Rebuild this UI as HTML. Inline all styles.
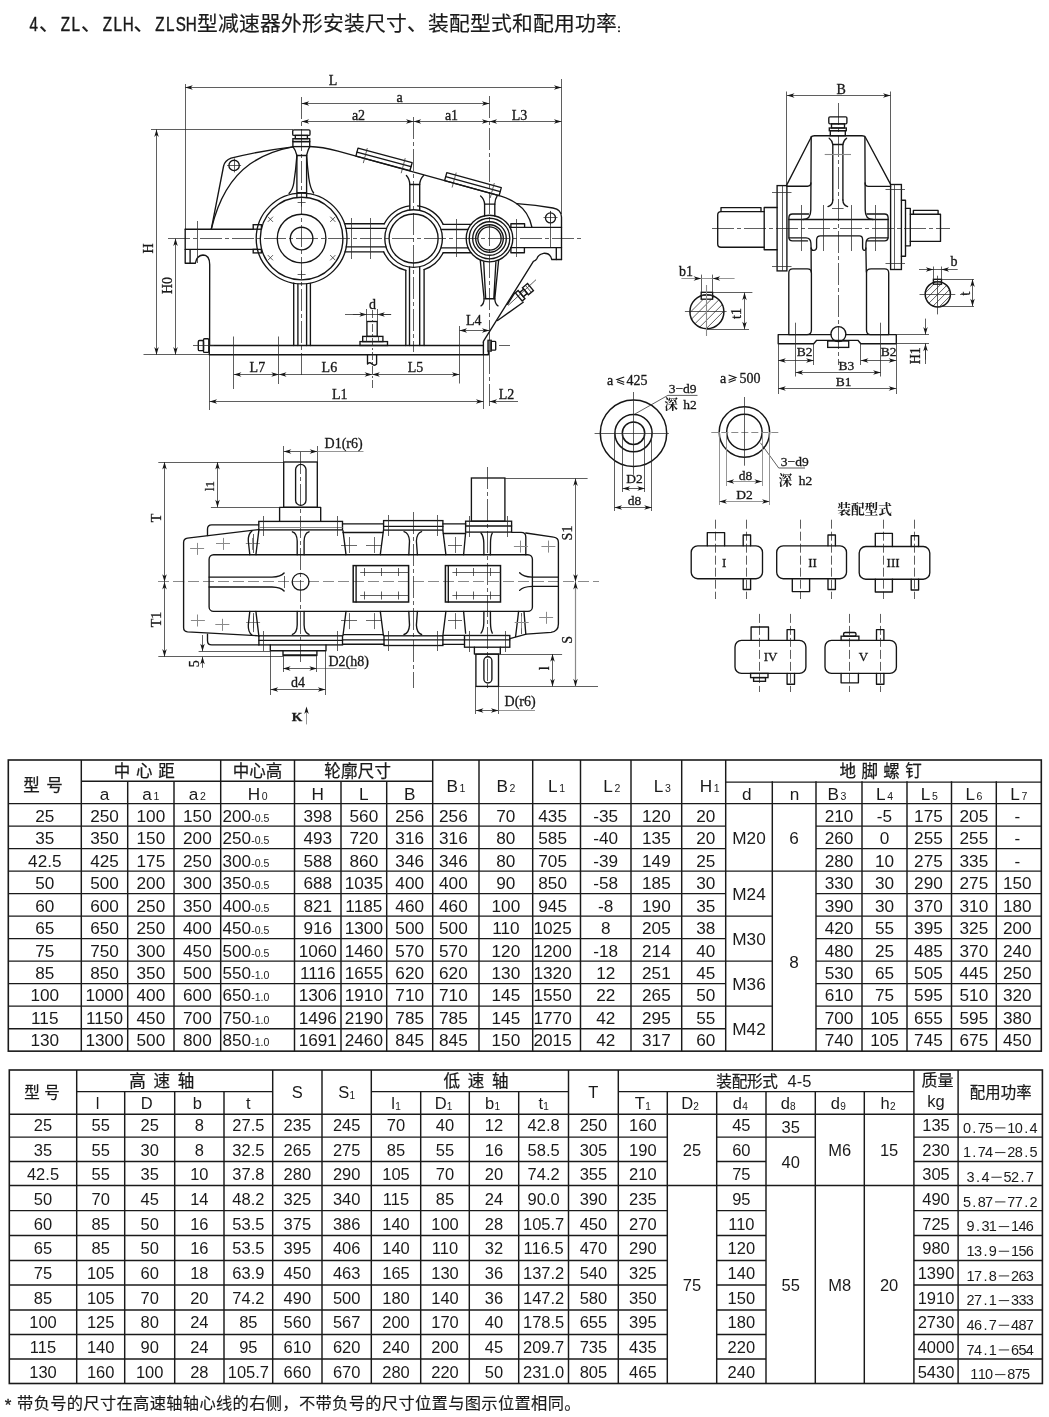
<!DOCTYPE html>
<html><head><meta charset="utf-8"><title>ZL</title>
<style>
html,body{margin:0;padding:0;background:#fff;}
body{width:1049px;height:1417px;overflow:hidden;font-family:"Liberation Sans",sans-serif;}
svg{display:block;position:absolute;left:0;top:0;will-change:transform;filter:grayscale(1);}
text{fill:#1a1a1a;}
</style></head><body>
<svg width="1049" height="1417" viewBox="0 0 1049 1417">
<rect width="1049" height="1417" fill="#fff"/>
<path d="M185.5 84L185.5 229" stroke="#2a2a2a" stroke-width="0.75" fill="none" />
<path d="M561.5 79L561.5 214" stroke="#2a2a2a" stroke-width="0.75" fill="none" />
<path d="M185.2 87.5L561.5 87.5" stroke="#2a2a2a" stroke-width="0.75" fill="none" />
<path d="M185.20 87.50L192.80 85.25L190.67 87.50L192.80 89.75Z" fill="#151515"/>
<path d="M561.50 87.50L553.90 89.75L556.03 87.50L553.90 85.25Z" fill="#151515"/>
<text x="333" y="84.5" font-size="14" text-anchor="middle" font-family="Liberation Serif, serif" font-weight="normal" stroke="#151515" stroke-width="0.3">L</text>
<path d="M301.6 103.5L489.5 103.5" stroke="#2a2a2a" stroke-width="0.75" fill="none" />
<path d="M301.60 103.50L309.20 101.25L307.07 103.50L309.20 105.75Z" fill="#151515"/>
<path d="M489.50 103.50L481.90 105.75L484.03 103.50L481.90 101.25Z" fill="#151515"/>
<text x="399.5" y="101.5" font-size="14" text-anchor="middle" font-family="Liberation Serif, serif" font-weight="normal" stroke="#151515" stroke-width="0.3">a</text>
<path d="M301.6 121.5L413.6 121.5" stroke="#2a2a2a" stroke-width="0.75" fill="none" />
<path d="M301.60 121.50L309.20 119.25L307.07 121.50L309.20 123.75Z" fill="#151515"/>
<path d="M413.60 121.50L406.00 123.75L408.13 121.50L406.00 119.25Z" fill="#151515"/>
<path d="M413.6 121.5L489.5 121.5" stroke="#2a2a2a" stroke-width="0.75" fill="none" />
<path d="M413.60 121.50L421.20 119.25L419.07 121.50L421.20 123.75Z" fill="#151515"/>
<path d="M489.50 121.50L481.90 123.75L484.03 121.50L481.90 119.25Z" fill="#151515"/>
<path d="M489.5 121.5L561.5 121.5" stroke="#2a2a2a" stroke-width="0.75" fill="none" />
<path d="M489.50 121.50L497.10 119.25L494.97 121.50L497.10 123.75Z" fill="#151515"/>
<path d="M561.50 121.50L553.90 123.75L556.03 121.50L553.90 119.25Z" fill="#151515"/>
<text x="358.5" y="119.5" font-size="14" text-anchor="middle" font-family="Liberation Serif, serif" font-weight="normal" stroke="#151515" stroke-width="0.3">a2</text>
<text x="451.5" y="119.5" font-size="14" text-anchor="middle" font-family="Liberation Serif, serif" font-weight="normal" stroke="#151515" stroke-width="0.3">a1</text>
<text x="519.5" y="119.5" font-size="14" text-anchor="middle" font-family="Liberation Serif, serif" font-weight="normal" stroke="#151515" stroke-width="0.3">L3</text>
<path d="M151 129.5L293 129.5" stroke="#2a2a2a" stroke-width="0.75" fill="none" />
<path d="M143.5 354.5L209 354.5" stroke="#2a2a2a" stroke-width="0.75" fill="none" />
<path d="M156.5 129.4L156.5 354.7" stroke="#2a2a2a" stroke-width="0.75" fill="none" />
<path d="M156.50 129.40L158.75 137.00L156.50 134.87L154.25 137.00Z" fill="#151515"/>
<path d="M156.50 354.70L154.25 347.10L156.50 349.23L158.75 347.10Z" fill="#151515"/>
<text x="152.5" y="248.5" font-size="14" text-anchor="middle" font-family="Liberation Serif, serif" font-weight="normal" stroke="#151515" stroke-width="0.3" transform="rotate(-90 152.5 248.5)">H</text>
<path d="M175.5 238.5L175.5 354.7" stroke="#2a2a2a" stroke-width="0.75" fill="none" />
<path d="M175.50 238.50L177.75 246.10L175.50 243.97L173.25 246.10Z" fill="#151515"/>
<path d="M175.50 354.70L173.25 347.10L175.50 349.23L177.75 347.10Z" fill="#151515"/>
<text x="172" y="285.5" font-size="14" text-anchor="middle" font-family="Liberation Serif, serif" font-weight="normal" stroke="#151515" stroke-width="0.3" transform="rotate(-90 172 285.5)">H0</text>
<path d="M168 238.5L583 238.5" stroke="#2a2a2a" stroke-width="0.75" fill="none" stroke-dasharray="22 3 4 3"/>
<path d="M301.5 97L301.5 375" stroke="#2a2a2a" stroke-width="0.75" fill="none" stroke-dasharray="22 3 4 3"/>
<path d="M413.5 117L413.5 352" stroke="#2a2a2a" stroke-width="0.75" fill="none" stroke-dasharray="22 3 4 3"/>
<path d="M489.5 96L489.5 409" stroke="#2a2a2a" stroke-width="0.75" fill="none" stroke-dasharray="22 3 4 3"/>
<rect x="292.7" y="129.8" width="17.30000000000001" height="5.599999999999994" rx="1.2" stroke="#151515" stroke-width="1.35" fill="none"/>
<rect x="295.3" y="135.4" width="12.099999999999966" height="3.299999999999983" rx="0" stroke="#151515" stroke-width="1.35" fill="none"/>
<rect x="292.9" y="138.7" width="16.80000000000001" height="2.9000000000000057" rx="0" stroke="#151515" stroke-width="1.35" fill="none"/>
<rect x="292.9" y="141.6" width="16.80000000000001" height="5.0" rx="0" stroke="#151515" stroke-width="1.35" fill="none"/>
<path d="M211.3 229.2 L223.6 166 Q225 160.5 231 158.2 Q262 150.5 292.9 146.8" stroke="#151515" stroke-width="1.35" fill="none" stroke-linejoin="round" stroke-linecap="round" />
<path d="M211.3 229.2 Q222 184 250 164 Q268 151.5 292.9 146.9" stroke="#151515" stroke-width="1.35" fill="none" stroke-linejoin="round" stroke-linecap="round" />
<circle cx="234.1" cy="165.4" r="5.2" stroke="#151515" stroke-width="1.35" fill="none" />
<path d="M227.1 165.5L241.1 165.5M234.5 158.4L234.5 172.4" stroke="#2a2a2a" stroke-width="0.75" fill="none" />
<path d="M309.7 146.5 Q322 146.8 338 151.2 L501.7 196.3 Q510 199 516.9 203.7" stroke="#151515" stroke-width="1.35" fill="none" stroke-linejoin="round" stroke-linecap="round" />
<path d="M516.9 203.7 Q536 205 553 208 Q561.5 209.5 561.5 217 L561.5 259.5" stroke="#151515" stroke-width="1.35" fill="none" stroke-linejoin="round" stroke-linecap="round" />
<path d="M516.9 203.7 Q529 212 531.9 227.2" stroke="#151515" stroke-width="1.35" fill="none" stroke-linejoin="round" stroke-linecap="round" />
<circle cx="550.5" cy="217.9" r="5.0" stroke="#151515" stroke-width="1.35" fill="none" />
<path d="M543.5 217.5L557.5 217.5M550.5 210.9L550.5 224.9" stroke="#2a2a2a" stroke-width="0.75" fill="none" />
<path d="M550.5 211L550.5 247" stroke="#2a2a2a" stroke-width="0.75" fill="none" />
<path d="M358.0 148.2L412.1 162.7L409.9 170.7L355.9 156.2Z" stroke="#151515" stroke-width="1.35" fill="none" stroke-linejoin="round" stroke-linecap="round" />
<path d="M356.9 152.2L411.0 166.7" stroke="#151515" stroke-width="1.35" fill="none" stroke-linejoin="round" stroke-linecap="round" />
<path d="M367.3 148.1L363.3 163.1" stroke="#2a2a2a" stroke-width="0.75" fill="none" />
<path d="M405.2 158.2L401.2 173.2" stroke="#2a2a2a" stroke-width="0.75" fill="none" />
<path d="M446.8 172.6L501.3 187.6L499.1 195.6L444.6 180.6Z" stroke="#151515" stroke-width="1.35" fill="none" stroke-linejoin="round" stroke-linecap="round" />
<path d="M445.7 176.6L500.2 191.6" stroke="#151515" stroke-width="1.35" fill="none" stroke-linejoin="round" stroke-linecap="round" />
<path d="M456.2 172.6L452.1 187.5" stroke="#2a2a2a" stroke-width="0.75" fill="none" />
<path d="M494.3 183.1L490.2 198" stroke="#2a2a2a" stroke-width="0.75" fill="none" />
<path d="M185.2 229.2L253.2 229.2" stroke="#151515" stroke-width="1.35" fill="none" stroke-linejoin="round" stroke-linecap="round" />
<path d="M185.2 229.2L185.2 263.2L195.4 263.2 Q196.5 255.6 203 255 Q209.6 255 209.7 264.5 L209.6 345.5" stroke="#151515" stroke-width="1.35" fill="none" stroke-linejoin="round" stroke-linecap="round" />
<path d="M185.2 249.4L256.8 249.4M190.1 249.4L190.1 263.2" stroke="#151515" stroke-width="1.35" fill="none" stroke-linejoin="round" stroke-linecap="round" />
<rect x="253.2" y="224.7" width="8.199999999999989" height="4.5" rx="0" stroke="#151515" stroke-width="1.35" fill="none"/>
<rect x="253.2" y="249.4" width="8.199999999999989" height="3.5" rx="0" stroke="#151515" stroke-width="1.35" fill="none"/>
<path d="M197.5 221L197.5 263" stroke="#2a2a2a" stroke-width="0.75" fill="none" />
<path d="M344.5 223.7L384.3 223.7" stroke="#151515" stroke-width="1.35" fill="none" stroke-linejoin="round" stroke-linecap="round" />
<path d="M345.8 228.3L386.5 228.3" stroke="#151515" stroke-width="1.35" fill="none" stroke-linejoin="round" stroke-linecap="round" />
<path d="M346.2 246.9L385.8 246.9" stroke="#151515" stroke-width="1.35" fill="none" stroke-linejoin="round" stroke-linecap="round" />
<path d="M345.0 251.8L383.6 251.8" stroke="#151515" stroke-width="1.35" fill="none" stroke-linejoin="round" stroke-linecap="round" />
<path d="M351.5 218L351.5 259" stroke="#2a2a2a" stroke-width="0.75" fill="none" />
<path d="M370.5 218L370.5 259" stroke="#2a2a2a" stroke-width="0.75" fill="none" />
<path d="M443.2 224.3L471.0 224.3" stroke="#151515" stroke-width="1.35" fill="none" stroke-linejoin="round" stroke-linecap="round" />
<path d="M441.2 229.5L468.0 229.5" stroke="#151515" stroke-width="1.35" fill="none" stroke-linejoin="round" stroke-linecap="round" />
<path d="M441.1 247.8L468.1 247.8" stroke="#151515" stroke-width="1.35" fill="none" stroke-linejoin="round" stroke-linecap="round" />
<path d="M443.2 252.7L471.0 252.7" stroke="#151515" stroke-width="1.35" fill="none" stroke-linejoin="round" stroke-linecap="round" />
<path d="M456.5 219L456.5 257" stroke="#2a2a2a" stroke-width="0.75" fill="none" />
<path d="M510.0 227.4L561.5 227.4" stroke="#151515" stroke-width="1.35" fill="none" stroke-linejoin="round" stroke-linecap="round" />
<path d="M510.9 247.6L561.5 247.6" stroke="#151515" stroke-width="1.35" fill="none" stroke-linejoin="round" stroke-linecap="round" />
<path d="M510.9 227.4L510.9 223.7L524.6 223.7L524.6 227.4" stroke="#151515" stroke-width="1.35" fill="none" stroke-linejoin="round" stroke-linecap="round" />
<path d="M510.9 247.6L510.9 252.7L524.4 252.7L524.4 247.6" stroke="#151515" stroke-width="1.35" fill="none" stroke-linejoin="round" stroke-linecap="round" />
<path d="M516.5 219L516.5 257" stroke="#2a2a2a" stroke-width="0.75" fill="none" />
<path d="M556.3 247.6L556.3 259.5" stroke="#151515" stroke-width="1.35" fill="none" stroke-linejoin="round" stroke-linecap="round" />
<circle cx="301.6" cy="238.5" r="41.3" stroke="#151515" stroke-width="1.35" fill="none" />
<circle cx="301.6" cy="238.5" r="24.3" stroke="#151515" stroke-width="1.35" fill="none" />
<circle cx="301.6" cy="238.5" r="11.3" stroke="#151515" stroke-width="1.35" fill="none" />
<circle cx="301.6" cy="238.5" r="45.4" stroke="#151515" stroke-width="1.35" fill="none" />
<path d="M267.8 216.7L273 221.9M267.8 221.9L273 216.7" stroke="#2a2a2a" stroke-width="0.75" fill="none" />
<path d="M267.8 255.1L273 260.3M267.8 260.3L273 255.1" stroke="#2a2a2a" stroke-width="0.75" fill="none" />
<path d="M330.2 216.7L335.4 221.9M330.2 221.9L335.4 216.7" stroke="#2a2a2a" stroke-width="0.75" fill="none" />
<path d="M330.2 255.1L335.4 260.3M330.2 260.3L335.4 255.1" stroke="#2a2a2a" stroke-width="0.75" fill="none" />
<path d="M297.6 202.5L305.6 202.5M301.5 198.5L301.5 206.5" stroke="#2a2a2a" stroke-width="0.75" fill="none" />
<path d="M297.6 274.5L305.6 274.5M301.5 270.5L301.5 278.5" stroke="#2a2a2a" stroke-width="0.75" fill="none" />
<path d="M292.9 146.6 Q295.6 150 296.9 155.5M309.7 146.6 Q307.8 150 306.6 155.5" stroke="#151515" stroke-width="1.35" fill="none" stroke-linejoin="round" stroke-linecap="round" />
<path d="M296.9 155.5L296.9 196.9M306.6 155.5L306.6 196.9M296.9 155.5L306.6 155.5M296.9 192.6L306.6 192.6" stroke="#151515" stroke-width="1.35" fill="none" stroke-linejoin="round" stroke-linecap="round" />
<path d="M296.9 155.5 Q295.8 170 293.8 183 Q292.6 190 289 193.4" stroke="#151515" stroke-width="1.35" fill="none" stroke-linejoin="round" stroke-linecap="round" />
<path d="M306.6 155.5 Q307.5 168 308.8 178 Q310.2 188.5 313.6 193" stroke="#151515" stroke-width="1.35" fill="none" stroke-linejoin="round" stroke-linecap="round" />
<path d="M293.7 283.2L293.7 345.5M310.4 283.5L310.4 345.5" stroke="#151515" stroke-width="1.35" fill="none" stroke-linejoin="round" stroke-linecap="round" />
<path d="M297.9 284L297.9 345.5M306.6 284L306.6 345.5" stroke="#151515" stroke-width="1.35" fill="none" stroke-linejoin="round" stroke-linecap="round" />
<circle cx="413.6" cy="238.5" r="28.8" stroke="#151515" stroke-width="1.35" fill="none" />
<circle cx="413.6" cy="238.5" r="24.5" stroke="#151515" stroke-width="1.35" fill="none" />
<path d="M384.27 223.81A32.8 32.8 0 0 1 409.60 205.94" stroke="#151515" stroke-width="1.35" fill="none" stroke-linejoin="round" stroke-linecap="round" />
<path d="M417.60 205.94A32.8 32.8 0 0 1 443.20 224.38" stroke="#151515" stroke-width="1.35" fill="none" stroke-linejoin="round" stroke-linecap="round" />
<path d="M443.13 252.78A32.8 32.8 0 0 1 424.12 269.57" stroke="#151515" stroke-width="1.35" fill="none" stroke-linejoin="round" stroke-linecap="round" />
<path d="M405.78 270.35A32.8 32.8 0 0 1 383.66 251.89" stroke="#151515" stroke-width="1.35" fill="none" stroke-linejoin="round" stroke-linecap="round" />
<path d="M409.8 184.5L409.8 209.8M419.7 184.5L419.7 209.8M409.8 184.5L419.7 184.5" stroke="#151515" stroke-width="1.35" fill="none" stroke-linejoin="round" stroke-linecap="round" />
<path d="M406.4 175.5 Q409.6 179 409.8 184.5M423.6 175.5 Q420 179 419.7 184.5" stroke="#151515" stroke-width="1.35" fill="none" stroke-linejoin="round" stroke-linecap="round" />
<path d="M405.8 270.2L405.8 345.5M424.1 269.5L424.1 345.5" stroke="#151515" stroke-width="1.35" fill="none" stroke-linejoin="round" stroke-linecap="round" />
<path d="M409.5 267L409.5 345.5M419.7 267L419.7 345.5" stroke="#151515" stroke-width="1.35" fill="none" stroke-linejoin="round" stroke-linecap="round" />
<circle cx="489.5" cy="238.5" r="20.3" stroke="#151515" stroke-width="1.35" fill="none" />
<circle cx="489.5" cy="238.5" r="16.8" stroke="#151515" stroke-width="1.35" fill="none" />
<circle cx="489.5" cy="238.5" r="13.8" stroke="#151515" stroke-width="1.35" fill="none" />
<circle cx="489.5" cy="238.5" r="11.6" stroke="#151515" stroke-width="1.35" fill="none" />
<circle cx="489.5" cy="238.5" r="23.3" stroke="#151515" stroke-width="1.35" fill="none" />
<path d="M484.6 204.1L484.6 216M494.8 204.1L494.8 216M484.6 204.1L494.8 204.1" stroke="#151515" stroke-width="1.35" fill="none" stroke-linejoin="round" stroke-linecap="round" />
<path d="M480.6 196 Q484.2 199 484.6 204.1M497.3 195.6 Q495 199 494.8 204.1" stroke="#151515" stroke-width="1.35" fill="none" stroke-linejoin="round" stroke-linecap="round" />
<path d="M480.3 260.5L484.1 298.7M483.7 262L485.7 298.7M498.6 260.5L494.8 298.7M495.9 262L493.8 298.7" stroke="#151515" stroke-width="1.35" fill="none" stroke-linejoin="round" stroke-linecap="round" />
<path d="M485.7 298.7L493.8 298.7" stroke="#151515" stroke-width="1.35" fill="none" stroke-linejoin="round" stroke-linecap="round" />
<path d="M484.1 298.7 Q484 304 481 305.8M494.8 298.7 Q495 304 498 305.8" stroke="#151515" stroke-width="1.35" fill="none" stroke-linejoin="round" stroke-linecap="round" />
<path d="M209.3 345.5L483.4 345.5" stroke="#151515" stroke-width="1.35" fill="none" stroke-linejoin="round" stroke-linecap="round" />
<path d="M209.3 345.5L209.3 354.7L483.4 354.7L483.4 342.5" stroke="#151515" stroke-width="1.35" fill="none" stroke-linejoin="round" stroke-linecap="round" />
<rect x="203.5" y="338.7" width="5.300000000000011" height="13.699999999999989" rx="1" stroke="#151515" stroke-width="1.35" fill="none"/>
<rect x="198.3" y="340.5" width="5.199999999999989" height="10.100000000000023" rx="1.2" stroke="#151515" stroke-width="1.35" fill="none"/>
<path d="M193 345.5L214 345.5" stroke="#2a2a2a" stroke-width="0.75" fill="none" />
<rect x="487.9" y="340.2" width="3.4" height="11" fill="#777" stroke="#151515" stroke-width="1.1"/>
<rect x="491.3" y="341.4" width="4.399999999999977" height="8.800000000000011" rx="0.8" stroke="#151515" stroke-width="1.35" fill="none"/>
<path d="M483.4 354.7L488.4 354.7L488.4 351" stroke="#151515" stroke-width="1.35" fill="none" stroke-linejoin="round" stroke-linecap="round" />
<path d="M499 345.5L510 345.5" stroke="#2a2a2a" stroke-width="0.75" fill="none" />
<path d="M483.4 342.5 L483.4 341.4 L533.4 261.4 Q536 260.6 536.8 258.8 Q538.2 254.4 543.5 253.3 Q550.3 252.8 551.8 259.5 L561.5 259.5" stroke="#151515" stroke-width="1.35" fill="none" stroke-linejoin="round" stroke-linecap="round" />
<path d="M497.6 320.5L523.2 302.2" stroke="#151515" stroke-width="1.35" fill="none" stroke-linejoin="round" stroke-linecap="round" />
<path d="M507.5 304.3L514.6 293.2" stroke="#151515" stroke-width="1.35" fill="none" stroke-linejoin="round" stroke-linecap="round" />
<g transform="rotate(-40 524.6 292)">
<rect x="517" y="286.7" width="3.6000000000000227" height="10.600000000000023" rx="0" stroke="#151515" stroke-width="1.35" fill="none"/>
<rect x="520.6" y="289.2" width="5.100000000000023" height="5.600000000000023" rx="0" stroke="#151515" stroke-width="1.35" fill="none"/>
<rect x="525.7" y="287.4" width="6.599999999999909" height="9.200000000000045" rx="0" stroke="#151515" stroke-width="1.35" fill="none"/>
<path d="M529.5 287.4L529.5 296.6" stroke="#2a2a2a" stroke-width="0.75" fill="none" />
</g>
<path d="M508 305.5L536 279.7" stroke="#2a2a2a" stroke-width="0.75" fill="none" />
<rect x="366.9" y="321.5" width="10.300000000000011" height="14.899999999999977" rx="0" stroke="#151515" stroke-width="1.35" fill="none"/>
<rect x="362.7" y="336.4" width="20.19999999999999" height="5.2000000000000455" rx="0" stroke="#151515" stroke-width="1.35" fill="none"/>
<rect x="360" y="341.6" width="27.5" height="3.8999999999999773" rx="0" stroke="#151515" stroke-width="1.35" fill="none"/>
<path d="M366.5 336.4L366.5 341.6M378.5 336.4L378.5 341.6" stroke="#2a2a2a" stroke-width="0.75" fill="none" />
<path d="M367.5 354.7L367.5 364 Q369.5 361.5 372 364 Q374.5 366.5 376.6 364 L376.6 354.7" stroke="#151515" stroke-width="1.35" fill="none" stroke-linejoin="round" stroke-linecap="round" />
<path d="M372.5 310L372.5 389" stroke="#2a2a2a" stroke-width="0.75" fill="none" stroke-dasharray="8 2 2 2"/>
<path d="M366.5 309L366.5 321M377.5 309L377.5 321" stroke="#2a2a2a" stroke-width="0.75" fill="none" />
<path d="M352.9 314.5L366.9 314.5M377.2 314.5L391.2 314.5" stroke="#2a2a2a" stroke-width="0.75" fill="none" />
<path d="M366.90 314.50L359.30 316.75L361.43 314.50L359.30 312.25Z" fill="#151515"/>
<path d="M377.20 314.50L384.80 312.25L382.67 314.50L384.80 316.75Z" fill="#151515"/>
<path d="M345 314.5L391 314.5" stroke="#2a2a2a" stroke-width="0.75" fill="none" />
<text x="372.6" y="309" font-size="14" text-anchor="middle" font-family="Liberation Serif, serif" font-weight="normal" stroke="#151515" stroke-width="0.3">d</text>
<path d="M233.5 336.5L233.5 389M278.5 336.5L278.5 384M459.5 326L459.5 383.5" stroke="#2a2a2a" stroke-width="0.75" fill="none" />
<path d="M233.8 374.5L278.9 374.5" stroke="#2a2a2a" stroke-width="0.75" fill="none" />
<path d="M233.80 374.50L241.40 372.25L239.27 374.50L241.40 376.75Z" fill="#151515"/>
<path d="M278.90 374.50L271.30 376.75L273.43 374.50L271.30 372.25Z" fill="#151515"/>
<path d="M278.9 374.5L372.2 374.5" stroke="#2a2a2a" stroke-width="0.75" fill="none" />
<path d="M278.90 374.50L286.50 372.25L284.37 374.50L286.50 376.75Z" fill="#151515"/>
<path d="M372.20 374.50L364.60 376.75L366.73 374.50L364.60 372.25Z" fill="#151515"/>
<path d="M372.2 374.5L459.5 374.5" stroke="#2a2a2a" stroke-width="0.75" fill="none" />
<path d="M372.20 374.50L379.80 372.25L377.67 374.50L379.80 376.75Z" fill="#151515"/>
<path d="M459.50 374.50L451.90 376.75L454.03 374.50L451.90 372.25Z" fill="#151515"/>
<text x="257.4" y="372" font-size="14" text-anchor="middle" font-family="Liberation Serif, serif" font-weight="normal" stroke="#151515" stroke-width="0.3">L7</text>
<text x="329.4" y="372" font-size="14" text-anchor="middle" font-family="Liberation Serif, serif" font-weight="normal" stroke="#151515" stroke-width="0.3">L6</text>
<text x="415.6" y="372" font-size="14" text-anchor="middle" font-family="Liberation Serif, serif" font-weight="normal" stroke="#151515" stroke-width="0.3">L5</text>
<path d="M209.5 354.7L209.5 410M483.5 354.7L483.5 409" stroke="#2a2a2a" stroke-width="0.75" fill="none" />
<path d="M209.5 401.5L483.5 401.5" stroke="#2a2a2a" stroke-width="0.75" fill="none" />
<path d="M209.50 401.50L217.10 399.25L214.97 401.50L217.10 403.75Z" fill="#151515"/>
<path d="M483.50 401.50L475.90 403.75L478.03 401.50L475.90 399.25Z" fill="#151515"/>
<text x="339.7" y="398.5" font-size="14" text-anchor="middle" font-family="Liberation Serif, serif" font-weight="normal" stroke="#151515" stroke-width="0.3">L1</text>
<path d="M489.5 401.5L518 401.5" stroke="#2a2a2a" stroke-width="0.75" fill="none" />
<path d="M489.50 401.50L497.10 399.25L494.97 401.50L497.10 403.75Z" fill="#151515"/>
<text x="506.5" y="398.5" font-size="14" text-anchor="middle" font-family="Liberation Serif, serif" font-weight="normal" stroke="#151515" stroke-width="0.3">L2</text>
<path d="M459.5 330.5L489.5 330.5" stroke="#2a2a2a" stroke-width="0.75" fill="none" />
<path d="M459.50 330.50L467.10 328.25L464.97 330.50L467.10 332.75Z" fill="#151515"/>
<path d="M489.50 330.50L481.90 332.75L484.03 330.50L481.90 328.25Z" fill="#151515"/>
<text x="473.7" y="325.2" font-size="14" text-anchor="middle" font-family="Liberation Serif, serif" font-weight="normal" stroke="#151515" stroke-width="0.3">L4</text>
<path d="M786.5 91.5L786.5 185" stroke="#2a2a2a" stroke-width="0.75" fill="none" />
<path d="M890.5 91.5L890.5 184" stroke="#2a2a2a" stroke-width="0.75" fill="none" />
<path d="M786.9 95.5L890.6 95.5" stroke="#2a2a2a" stroke-width="0.75" fill="none" />
<path d="M786.90 95.50L794.50 93.25L792.37 95.50L794.50 97.75Z" fill="#151515"/>
<path d="M890.60 95.50L883.00 97.75L885.13 95.50L883.00 93.25Z" fill="#151515"/>
<text x="841.2" y="93.5" font-size="14" text-anchor="middle" font-family="Liberation Serif, serif" font-weight="normal" stroke="#151515" stroke-width="0.3">B</text>
<path d="M838.5 103L838.5 365" stroke="#2a2a2a" stroke-width="0.75" fill="none" stroke-dasharray="22 3 4 3"/>
<path d="M712 228.5L950 228.5" stroke="#2a2a2a" stroke-width="0.75" fill="none" stroke-dasharray="22 3 4 3"/>
<rect x="828.8" y="116.9" width="18.100000000000023" height="6.8999999999999915" rx="1.2" stroke="#151515" stroke-width="1.35" fill="none"/>
<rect x="831.5" y="123.8" width="13.0" height="4.200000000000003" rx="0" stroke="#151515" stroke-width="1.35" fill="none"/>
<rect x="829.3" y="128" width="17.0" height="2.6999999999999886" rx="0" stroke="#151515" stroke-width="1.35" fill="none"/>
<rect x="830.3" y="130.7" width="15.0" height="5.0" rx="0" stroke="#151515" stroke-width="1.35" fill="none"/>
<path d="M786.9 184.6L811 137.5 Q812 135.7 814.5 135.7 L862 135.7 Q864.5 135.7 865.5 137.5 L890.6 184.4" stroke="#151515" stroke-width="1.35" fill="none" stroke-linejoin="round" stroke-linecap="round" />
<path d="M811.2 136.5L810.8 210 Q810.8 219.5 803 219.5" stroke="#151515" stroke-width="1.35" fill="none" stroke-linejoin="round" stroke-linecap="round" />
<path d="M864.9 136.5L865.2 210 Q865.2 219.5 873 219.5" stroke="#151515" stroke-width="1.35" fill="none" stroke-linejoin="round" stroke-linecap="round" />
<path d="M786.9 186.2L807.5 186.2 Q810.9 186.2 810.9 182.8" stroke="#151515" stroke-width="1.35" fill="none" stroke-linejoin="round" stroke-linecap="round" />
<path d="M890.6 186.4L868.5 186.4 Q865.1 186.4 865.1 183" stroke="#151515" stroke-width="1.35" fill="none" stroke-linejoin="round" stroke-linecap="round" />
<path d="M832.8 144.5L832.8 200M842.9 144.5L842.9 200M832.8 144.5L842.9 144.5" stroke="#151515" stroke-width="1.35" fill="none" stroke-linejoin="round" stroke-linecap="round" />
<path d="M829.2 138.2 Q832.3 140.5 832.8 144.5M846.6 138.2 Q843.4 140.5 842.9 144.5" stroke="#151515" stroke-width="1.35" fill="none" stroke-linejoin="round" stroke-linecap="round" />
<path d="M828 206.6 Q832.8 205 832.8 200M847.6 206.6 Q842.9 205 842.9 200" stroke="#151515" stroke-width="1.35" fill="none" stroke-linejoin="round" stroke-linecap="round" />
<path d="M824.7 154.5L851 154.5" stroke="#8a8a8a" stroke-width="1.1" fill="none" />
<path d="M832 208.5L843.6 208.5" stroke="#2a2a2a" stroke-width="0.75" fill="none" />
<rect x="777.1" y="185.6" width="9.799999999999955" height="85.29999999999998" rx="0" stroke="#151515" stroke-width="1.35" fill="none"/>
<path d="M782.5 185.6L782.5 270.9" stroke="#2a2a2a" stroke-width="0.75" fill="none" />
<path d="M772 192.5L791.5 192.5M772 266.5L791.5 266.5" stroke="#2a2a2a" stroke-width="0.75" fill="none" />
<rect x="890.6" y="184.5" width="10.799999999999955" height="85.0" rx="0" stroke="#151515" stroke-width="1.35" fill="none"/>
<path d="M894.5 184.5L894.5 269.5" stroke="#2a2a2a" stroke-width="0.75" fill="none" />
<path d="M885.5 189.5L905 189.5M885.5 263.5L905 263.5" stroke="#2a2a2a" stroke-width="0.75" fill="none" />
<path d="M764.2 211.6L721 211.6 Q717.7 211.6 717.7 215 L717.7 244 Q717.7 247.2 721 247.2 L764.2 247.2" stroke="#151515" stroke-width="1.35" fill="none" stroke-linejoin="round" stroke-linecap="round" />
<path d="M721 211.6L721 207.6L761 207.6L761 211.6" stroke="#151515" stroke-width="1.35" fill="none" stroke-linejoin="round" stroke-linecap="round" />
<path d="M777.1 207.5L764.2 207.5L764.2 249.7L777.1 249.7" stroke="#151515" stroke-width="1.35" fill="none" stroke-linejoin="round" stroke-linecap="round" />
<path d="M901.4 200.2L905.5 200.2L905.5 256.2L901.4 256.2" stroke="#151515" stroke-width="1.35" fill="none" stroke-linejoin="round" stroke-linecap="round" />
<path d="M905.5 208.4L910.3 208.4L910.3 245.8L905.5 245.8" stroke="#151515" stroke-width="1.35" fill="none" stroke-linejoin="round" stroke-linecap="round" />
<path d="M910.3 214.2L940.5 214.2L940.5 241.4L910.3 241.4" stroke="#151515" stroke-width="1.35" fill="none" stroke-linejoin="round" stroke-linecap="round" />
<path d="M913.4 214.2L913.4 210.4L938.1 210.4L938.1 214.2" stroke="#151515" stroke-width="1.35" fill="none" stroke-linejoin="round" stroke-linecap="round" />
<path d="M808.6 214 L792.5 214 Q788.9 214 788.9 217.6 L788.9 237.3 Q788.9 240.9 792.5 240.9 L807.5 240.9" stroke="#151515" stroke-width="1.35" fill="none" stroke-linejoin="round" stroke-linecap="round" />
<path d="M866.9 214 L884.5 214 Q888.1 214 888.1 217.6 L888.1 237.3 Q888.1 240.9 884.5 240.9 L867.5 240.9" stroke="#151515" stroke-width="1.35" fill="none" stroke-linejoin="round" stroke-linecap="round" />
<path d="M788.9 219.5L888.1 219.5" stroke="#151515" stroke-width="1.35" fill="none" stroke-linejoin="round" stroke-linecap="round" />
<path d="M788.9 237.8 L806 237.8 Q810.6 238 810.9 243 L811.1 248 Q811.6 250.6 813.8 250.4 Q816.4 250.3 816.6 247.5 L816.6 239.5 Q816.8 235.8 820.5 235.8 L859.5 235.8 Q862.5 235.8 862.6 239.5 L862.6 247.5 Q862.7 250.3 864.3 250.4 Q865.8 250.4 865.9 248 L866 243 Q866.3 238 870.8 237.8 L888.1 237.8" stroke="#151515" stroke-width="1.35" fill="none" stroke-linejoin="round" stroke-linecap="round" />
<path d="M801.5 205L801.5 251M823.5 205L823.5 251M851.5 205L851.5 251M875.5 205L875.5 251" stroke="#2a2a2a" stroke-width="0.75" fill="none" />
<path d="M792.8 268.9L807.4 268.9 Q811.4 268.9 811.4 272.9 L811.4 330 Q811.4 334.6 807 334.6 L788.8 334.6 L788.8 272.9 Q788.8 268.9 792.8 268.9" stroke="#151515" stroke-width="1.35" fill="none" stroke-linejoin="round" stroke-linecap="round" />
<path d="M871 268.9L884.7 268.9 Q888.7 268.9 888.7 272.9 L888.7 334.6 L870.5 334.6 Q866.5 334.6 866.5 330 L866.5 272.9 Q866.5 268.9 871 268.9" stroke="#151515" stroke-width="1.35" fill="none" stroke-linejoin="round" stroke-linecap="round" />
<path d="M811.1 248L811.2 272M865.9 248L866.3 272" stroke="#151515" stroke-width="1.35" fill="none" stroke-linejoin="round" stroke-linecap="round" />
<path d="M831 334.6L778.2 334.6L778.2 343.7L813.7 343.7L816.7 340.3L857.9 340.3L860.8 343.7L896.3 343.7L896.3 334.6L845.8 334.6" stroke="#151515" stroke-width="1.35" fill="none" stroke-linejoin="round" stroke-linecap="round" />
<circle cx="838.4" cy="334.1" r="7.5" stroke="#151515" stroke-width="1.35" fill="none" />
<rect x="827.7" y="341" width="21.0" height="6.399999999999977" rx="0" stroke="#151515" stroke-width="1.35" fill="none"/>
<path d="M778.5 343.7L778.5 394M896.5 343.7L896.5 394M795.5 322.7L795.5 376.5M880.5 322.7L880.5 376.5M813.5 343.7L813.5 365M860.5 343.7L860.5 365" stroke="#2a2a2a" stroke-width="0.75" fill="none" />
<path d="M778.2 360.5L813.7 360.5" stroke="#2a2a2a" stroke-width="0.75" fill="none" />
<path d="M778.20 360.50L785.80 358.25L783.67 360.50L785.80 362.75Z" fill="#151515"/>
<path d="M813.70 360.50L806.10 362.75L808.23 360.50L806.10 358.25Z" fill="#151515"/>
<path d="M860.8 360.5L896.3 360.5" stroke="#2a2a2a" stroke-width="0.75" fill="none" />
<path d="M860.80 360.50L868.40 358.25L866.27 360.50L868.40 362.75Z" fill="#151515"/>
<path d="M896.30 360.50L888.70 362.75L890.83 360.50L888.70 358.25Z" fill="#151515"/>
<text x="804.6" y="356.3" font-size="13.5" text-anchor="middle" font-family="Liberation Serif, serif" font-weight="normal" stroke="#151515" stroke-width="0.3">B2</text>
<text x="888.7" y="355.8" font-size="13.5" text-anchor="middle" font-family="Liberation Serif, serif" font-weight="normal" stroke="#151515" stroke-width="0.3">B2</text>
<path d="M795.6 372.5L880.7 372.5" stroke="#2a2a2a" stroke-width="0.75" fill="none" />
<path d="M795.60 372.50L803.20 370.25L801.07 372.50L803.20 374.75Z" fill="#151515"/>
<path d="M880.70 372.50L873.10 374.75L875.23 372.50L873.10 370.25Z" fill="#151515"/>
<text x="846.4" y="369.5" font-size="13.5" text-anchor="middle" font-family="Liberation Serif, serif" font-weight="normal" stroke="#151515" stroke-width="0.3">B3</text>
<path d="M778.2 388.5L896.3 388.5" stroke="#2a2a2a" stroke-width="0.75" fill="none" />
<path d="M778.20 388.50L785.80 386.25L783.67 388.50L785.80 390.75Z" fill="#151515"/>
<path d="M896.30 388.50L888.70 390.75L890.83 388.50L888.70 386.25Z" fill="#151515"/>
<text x="843.7" y="385.5" font-size="13.5" text-anchor="middle" font-family="Liberation Serif, serif" font-weight="normal" stroke="#151515" stroke-width="0.3">B1</text>
<path d="M896.3 334.5L929 334.5M896.3 343.5L929 343.5" stroke="#2a2a2a" stroke-width="0.75" fill="none" />
<path d="M925.5 318.6L925.5 334.6M925.5 343.7L925.5 359.7" stroke="#2a2a2a" stroke-width="0.75" fill="none" />
<path d="M925.50 334.60L923.25 327.00L925.50 329.13L927.75 327.00Z" fill="#151515"/>
<path d="M925.50 343.70L927.75 351.30L925.50 349.17L923.25 351.30Z" fill="#151515"/>
<path d="M925.5 343.7L925.5 364" stroke="#2a2a2a" stroke-width="0.75" fill="none" />
<text x="920.5" y="355.8" font-size="14" text-anchor="middle" font-family="Liberation Serif, serif" font-weight="normal" stroke="#151515" stroke-width="0.3" transform="rotate(-90 920.5 355.8)">H1</text>
<clipPath id="kc1"><path d="M689.9 311.8A17.0 17.0 0 1 1 723.9 311.8A17.0 17.0 0 1 1 689.9 311.8Z"/></clipPath>
<path d="M628.3 341.8L688.3 281.8M636.4 341.8L696.4 281.8M644.5 341.8L704.5 281.8M652.6 341.8L712.6 281.8M660.6999999999999 341.8L720.6999999999999 281.8M668.8 341.8L728.8 281.8M676.9 341.8L736.9 281.8M685.0 341.8L745.0 281.8M693.1 341.8L753.1 281.8M701.1999999999999 341.8L761.1999999999999 281.8M709.3 341.8L769.3 281.8M717.4 341.8L777.4 281.8M725.5 341.8L785.5 281.8" stroke="#2a2a2a" stroke-width="0.75" clip-path="url(#kc1)"/>
<rect x="701.2" y="292.3" width="11.4" height="7" fill="#fff"/>
<circle cx="706.9" cy="311.8" r="17.0" stroke="#151515" stroke-width="1.5" fill="none" />
<rect x="701.2" y="292.3" width="11.399999999999977" height="6.899999999999977" rx="0" stroke="#151515" stroke-width="1.35" fill="none"/>
<path d="M701.2 295.5L712.6 295.5" stroke="#2a2a2a" stroke-width="0.75" fill="none" />
<path d="M684.9 311.5L726.6 311.5" stroke="#2a2a2a" stroke-width="0.75" fill="none" />
<path d="M706.5 285L706.5 336" stroke="#8a8a8a" stroke-width="1.1" fill="none" />
<path d="M701.5 274.6L701.5 292.3M712.5 274.6L712.5 292.3" stroke="#2a2a2a" stroke-width="0.75" fill="none" />
<path d="M681.4 278.5L701.2 278.5M712.6 278.5L734.6 278.5M701.2 278.5L712.6 278.5" stroke="#8a8a8a" stroke-width="0.9" fill="none" />
<path d="M701.20 278.50L693.60 280.75L695.73 278.50L693.60 276.25Z" fill="#151515"/>
<path d="M712.60 278.50L720.20 276.25L718.07 278.50L720.20 280.75Z" fill="#151515"/>
<text x="686" y="275.5" font-size="14" text-anchor="middle" font-family="Liberation Serif, serif" font-weight="normal" stroke="#151515" stroke-width="0.3">b1</text>
<path d="M712.6 292.5L752.4 292.5M706.9 329.5L749 329.5" stroke="#2a2a2a" stroke-width="0.75" fill="none" />
<path d="M744.5 292.6L744.5 329.3" stroke="#2a2a2a" stroke-width="0.75" fill="none" />
<path d="M744.50 292.60L746.75 300.20L744.50 298.07L742.25 300.20Z" fill="#151515"/>
<path d="M744.50 329.30L742.25 321.70L744.50 323.83L746.75 321.70Z" fill="#151515"/>
<text x="741" y="313.5" font-size="14" text-anchor="middle" font-family="Liberation Serif, serif" font-weight="normal" stroke="#151515" stroke-width="0.3" transform="rotate(-90 741 313.5)">t1</text>
<clipPath id="kc2"><path d="M925.1999999999999 294.3A12.6 12.6 0 1 1 950.4 294.3A12.6 12.6 0 1 1 925.1999999999999 294.3Z"/></clipPath>
<path d="M872.8 324.3L932.8 264.3M879.8 324.3L939.8 264.3M886.8 324.3L946.8 264.3M893.8 324.3L953.8 264.3M900.8 324.3L960.8 264.3M907.8 324.3L967.8 264.3M914.8 324.3L974.8 264.3M921.8 324.3L981.8 264.3M928.8 324.3L988.8 264.3M935.8 324.3L995.8 264.3M942.8 324.3L1002.8 264.3" stroke="#2a2a2a" stroke-width="0.75" clip-path="url(#kc2)"/>
<rect x="933.4" y="279.3" width="8.1" height="4.8" fill="#fff"/>
<circle cx="937.8" cy="294.3" r="12.6" stroke="#151515" stroke-width="1.5" fill="none" />
<rect x="933.4" y="279.3" width="8.100000000000023" height="4.899999999999977" rx="0" stroke="#151515" stroke-width="1.35" fill="none"/>
<path d="M933.4 281.5L941.5 281.5" stroke="#2a2a2a" stroke-width="0.75" fill="none" />
<path d="M919.5 294.5L955.3 294.5M960 294.5L967 294.5" stroke="#2a2a2a" stroke-width="0.75" fill="none" />
<path d="M937.5 275.7L937.5 314.4" stroke="#2a2a2a" stroke-width="0.75" fill="none" />
<path d="M933.5 266.5L933.5 279.3M941.5 266.5L941.5 279.3" stroke="#2a2a2a" stroke-width="0.75" fill="none" />
<path d="M919 269.5L957.7 269.5" stroke="#2a2a2a" stroke-width="0.75" fill="none" />
<path d="M933.40 269.50L925.80 271.75L927.93 269.50L925.80 267.25Z" fill="#151515"/>
<path d="M941.50 269.50L949.10 267.25L946.97 269.50L949.10 271.75Z" fill="#151515"/>
<text x="953.9" y="266" font-size="14" text-anchor="middle" font-family="Liberation Serif, serif" font-weight="normal" stroke="#151515" stroke-width="0.3">b</text>
<path d="M941.5 279.5L974 279.5M938 306.5L974 306.5" stroke="#2a2a2a" stroke-width="0.75" fill="none" />
<path d="M972.5 279.3L972.5 306.3" stroke="#2a2a2a" stroke-width="0.75" fill="none" />
<path d="M972.50 279.30L974.75 286.90L972.50 284.77L970.25 286.90Z" fill="#151515"/>
<path d="M972.50 306.30L970.25 298.70L972.50 300.83L974.75 298.70Z" fill="#151515"/>
<text x="969.5" y="293.5" font-size="14" text-anchor="middle" font-family="Liberation Serif, serif" font-weight="normal" stroke="#151515" stroke-width="0.3" transform="rotate(-90 969.5 293.5)">t</text>
<circle cx="633.5" cy="433.2" r="33.2" stroke="#151515" stroke-width="1.5" fill="none" />
<circle cx="633.5" cy="433.2" r="18.6" stroke="#151515" stroke-width="1.5" fill="none" />
<circle cx="633.5" cy="433.2" r="11.2" stroke="#151515" stroke-width="1.5" fill="none" />
<path d="M594.6 433.5L668.9 433.5M633.5 392L633.5 474.8" stroke="#2a2a2a" stroke-width="0.75" fill="none" />
<path d="M634.6 414.2L667.8 395.4L697.5 395.4" stroke="#2a2a2a" stroke-width="0.75" fill="none" />
<text x="607" y="385" font-size="14" text-anchor="start" font-family="Liberation Serif, serif" font-weight="normal" stroke="#151515" stroke-width="0.3">a</text>
<path d="M624.2 377.0L617.0 379.6L624.2 382.20000000000005M617 381.8L624.2 384.4" stroke="#151515" stroke-width="1.1" fill="none" />
<text x="626.5" y="385" font-size="14" text-anchor="start" font-family="Liberation Serif, serif" font-weight="normal" stroke="#151515" stroke-width="0.3">425</text>
<text x="682.7" y="393.3" font-size="13.5" text-anchor="middle" font-family="Liberation Serif, serif" font-weight="normal" stroke="#151515" stroke-width="0.3">3−d9</text>
<text x="690" y="409" font-size="13.5" text-anchor="middle" font-family="Liberation Serif, serif" font-weight="normal" stroke="#151515" stroke-width="0.3">h2</text>
<path d="M614.5 433L614.5 511M651.5 433L651.5 511M622.5 433L622.5 492M644.5 433L644.5 492" stroke="#2a2a2a" stroke-width="0.75" fill="none" />
<path d="M622.5 488.5L644.9 488.5" stroke="#2a2a2a" stroke-width="0.75" fill="none" />
<path d="M622.50 488.50L630.10 486.25L627.97 488.50L630.10 490.75Z" fill="#151515"/>
<path d="M644.90 488.50L637.30 490.75L639.43 488.50L637.30 486.25Z" fill="#151515"/>
<text x="634.6" y="483" font-size="13.5" text-anchor="middle" font-family="Liberation Serif, serif" font-weight="normal" stroke="#151515" stroke-width="0.3">D2</text>
<path d="M614.5 507.5L651.8 507.5" stroke="#2a2a2a" stroke-width="0.75" fill="none" />
<path d="M614.50 507.50L622.10 505.25L619.97 507.50L622.10 509.75Z" fill="#151515"/>
<path d="M651.80 507.50L644.20 509.75L646.33 507.50L644.20 505.25Z" fill="#151515"/>
<text x="634.6" y="505" font-size="13.5" text-anchor="middle" font-family="Liberation Serif, serif" font-weight="normal" stroke="#151515" stroke-width="0.3">d8</text>
<circle cx="744.4" cy="432" r="25.2" stroke="#151515" stroke-width="1.5" fill="none" />
<circle cx="744.4" cy="432" r="17.7" stroke="#151515" stroke-width="1.5" fill="none" />
<path d="M711.3 432.5L779.9 432.5" stroke="#8a8a8a" stroke-width="1.1" fill="none" stroke-dasharray="7 3"/>
<path d="M744.5 397L744.5 465.7" stroke="#2a2a2a" stroke-width="0.75" fill="none" />
<path d="M760.4 442.8L778.7 468L805 468" stroke="#2a2a2a" stroke-width="0.75" fill="none" />
<text x="720" y="383" font-size="14" text-anchor="start" font-family="Liberation Serif, serif" font-weight="normal" stroke="#151515" stroke-width="0.3">a</text>
<path d="M728.6 375.0L735.8000000000001 377.6L728.6 380.20000000000005M735.8 379.8L728.6 382.4" stroke="#151515" stroke-width="1.1" fill="none" />
<text x="739.5" y="383" font-size="14" text-anchor="start" font-family="Liberation Serif, serif" font-weight="normal" stroke="#151515" stroke-width="0.3">500</text>
<text x="794.8" y="466" font-size="13.5" text-anchor="middle" font-family="Liberation Serif, serif" font-weight="normal" stroke="#151515" stroke-width="0.3">3−d9</text>
<text x="805.6" y="484.5" font-size="13.5" text-anchor="middle" font-family="Liberation Serif, serif" font-weight="normal" stroke="#151515" stroke-width="0.3">h2</text>
<path d="M726.5 432L726.5 486M762.5 432L762.5 486M719.5 432L719.5 505M769.5 432L769.5 505" stroke="#8a8a8a" stroke-width="0.9" fill="none" />
<path d="M726.6 481.5L762 481.5M719.3 501.5L769.6 501.5" stroke="#8a8a8a" stroke-width="0.9" fill="none" />
<path d="M726.60 481.50L734.20 479.25L732.07 481.50L734.20 483.75Z" fill="#151515"/>
<path d="M762.00 481.50L754.40 483.75L756.53 481.50L754.40 479.25Z" fill="#151515"/>
<path d="M719.30 501.50L726.90 499.25L724.77 501.50L726.90 503.75Z" fill="#151515"/>
<path d="M769.60 501.50L762.00 503.75L764.13 501.50L762.00 499.25Z" fill="#151515"/>
<text x="745.6" y="480" font-size="13.5" text-anchor="middle" font-family="Liberation Serif, serif" font-weight="normal" stroke="#151515" stroke-width="0.3">d8</text>
<text x="744.4" y="499" font-size="13.5" text-anchor="middle" font-family="Liberation Serif, serif" font-weight="normal" stroke="#151515" stroke-width="0.3">D2</text>
<rect x="691.2" y="545.8" width="71.29999999999995" height="32.90000000000009" rx="6.5" stroke="#151515" stroke-width="1.35" fill="none"/>
<path d="M715.5 519.7L715.5 599" stroke="#2a2a2a" stroke-width="0.75" fill="none" stroke-dasharray="9 3"/>
<path d="M746.5 519.7L746.5 599" stroke="#2a2a2a" stroke-width="0.75" fill="none" stroke-dasharray="9 3"/>
<path d="M743.1999999999999 545.8L743.1999999999999 535.0L750.6 535.0L750.6 545.8" stroke="#151515" stroke-width="1.35" fill="none" stroke-linejoin="round" stroke-linecap="round" />
<path d="M743.1999999999999 578.7L743.1999999999999 589.5L750.6 589.5L750.6 578.7" stroke="#151515" stroke-width="1.35" fill="none" stroke-linejoin="round" stroke-linecap="round" />
<text x="724.1" y="566.75" font-size="13" text-anchor="middle" font-family="Liberation Serif, serif" font-weight="normal" stroke="#151515" stroke-width="0.3">I</text>
<path d="M707.3 545.8L707.3 532.6L724.6 532.6L724.6 545.8" stroke="#151515" stroke-width="1.35" fill="none" stroke-linejoin="round" stroke-linecap="round" />
<rect x="776.7" y="545.8" width="69.79999999999995" height="32.90000000000009" rx="6.5" stroke="#151515" stroke-width="1.35" fill="none"/>
<path d="M800.5 519.7L800.5 599" stroke="#2a2a2a" stroke-width="0.75" fill="none" stroke-dasharray="9 3"/>
<path d="M831.5 519.7L831.5 599" stroke="#2a2a2a" stroke-width="0.75" fill="none" stroke-dasharray="9 3"/>
<path d="M828.0 545.8L828.0 535.0L835.4000000000001 535.0L835.4000000000001 545.8" stroke="#151515" stroke-width="1.35" fill="none" stroke-linejoin="round" stroke-linecap="round" />
<path d="M828.0 578.7L828.0 589.5L835.4000000000001 589.5L835.4000000000001 578.7" stroke="#151515" stroke-width="1.35" fill="none" stroke-linejoin="round" stroke-linecap="round" />
<text x="812.6" y="566.75" font-size="13" text-anchor="middle" font-family="Liberation Serif, serif" font-weight="normal" stroke="#151515" stroke-width="0.3">II</text>
<path d="M792.3 578.7L792.3 591.6L809.6 591.6L809.6 578.7" stroke="#151515" stroke-width="1.35" fill="none" stroke-linejoin="round" stroke-linecap="round" />
<rect x="859.2" y="546.5" width="70.59999999999991" height="32.700000000000045" rx="6.5" stroke="#151515" stroke-width="1.35" fill="none"/>
<path d="M883.5 519.7L883.5 599" stroke="#2a2a2a" stroke-width="0.75" fill="none" stroke-dasharray="9 3"/>
<path d="M914.5 519.7L914.5 599" stroke="#2a2a2a" stroke-width="0.75" fill="none" stroke-dasharray="9 3"/>
<path d="M911.1999999999999 546.5L911.1999999999999 535.7L918.6 535.7L918.6 546.5" stroke="#151515" stroke-width="1.35" fill="none" stroke-linejoin="round" stroke-linecap="round" />
<path d="M911.1999999999999 579.2L911.1999999999999 590.0L918.6 590.0L918.6 579.2" stroke="#151515" stroke-width="1.35" fill="none" stroke-linejoin="round" stroke-linecap="round" />
<text x="893.1" y="567.35" font-size="13" text-anchor="middle" font-family="Liberation Serif, serif" font-weight="normal" stroke="#151515" stroke-width="0.3">III</text>
<path d="M875.3 546.5L875.3 533.3L892.4 533.3L892.4 546.5" stroke="#151515" stroke-width="1.35" fill="none" stroke-linejoin="round" stroke-linecap="round" />
<path d="M875.3 579.2L875.3 592L892.4 592L892.4 579.2" stroke="#151515" stroke-width="1.35" fill="none" stroke-linejoin="round" stroke-linecap="round" />
<rect x="735" y="640.4" width="70.89999999999998" height="33.0" rx="6.5" stroke="#151515" stroke-width="1.35" fill="none"/>
<path d="M759.5 613.9L759.5 692" stroke="#2a2a2a" stroke-width="0.75" fill="none" stroke-dasharray="9 3"/>
<path d="M790.5 613.9L790.5 692" stroke="#2a2a2a" stroke-width="0.75" fill="none" stroke-dasharray="9 3"/>
<path d="M787.0999999999999 640.4L787.0999999999999 629.6L794.5 629.6L794.5 640.4" stroke="#151515" stroke-width="1.35" fill="none" stroke-linejoin="round" stroke-linecap="round" />
<path d="M787.0999999999999 673.4L787.0999999999999 684.1999999999999L794.5 684.1999999999999L794.5 673.4" stroke="#151515" stroke-width="1.35" fill="none" stroke-linejoin="round" stroke-linecap="round" />
<text x="770.5" y="661.4" font-size="13" text-anchor="middle" font-family="Liberation Serif, serif" font-weight="normal" stroke="#151515" stroke-width="0.3">IV</text>
<path d="M751.1 640.4L751.1 627L768.5 627L768.5 640.4" stroke="#151515" stroke-width="1.35" fill="none" stroke-linejoin="round" stroke-linecap="round" />
<rect x="750.6" y="673.4" width="17.399999999999977" height="4.2000000000000455" rx="0" stroke="#151515" stroke-width="1.35" fill="none"/>
<rect x="753.6" y="677.6" width="11.899999999999977" height="3.699999999999932" rx="0" stroke="#151515" stroke-width="1.35" fill="none"/>
<rect x="825" y="640.4" width="71.39999999999998" height="33.0" rx="6.5" stroke="#151515" stroke-width="1.35" fill="none"/>
<path d="M849.5 613.9L849.5 692" stroke="#2a2a2a" stroke-width="0.75" fill="none" stroke-dasharray="9 3"/>
<path d="M880.5 613.9L880.5 692" stroke="#2a2a2a" stroke-width="0.75" fill="none" stroke-dasharray="9 3"/>
<path d="M876.5 640.4L876.5 629.6L883.9000000000001 629.6L883.9000000000001 640.4" stroke="#151515" stroke-width="1.35" fill="none" stroke-linejoin="round" stroke-linecap="round" />
<path d="M876.5 673.4L876.5 684.1999999999999L883.9000000000001 684.1999999999999L883.9000000000001 673.4" stroke="#151515" stroke-width="1.35" fill="none" stroke-linejoin="round" stroke-linecap="round" />
<text x="863.4" y="661.4" font-size="13" text-anchor="middle" font-family="Liberation Serif, serif" font-weight="normal" stroke="#151515" stroke-width="0.3">V</text>
<rect x="841.1" y="636.2" width="17.799999999999955" height="4.199999999999932" rx="0" stroke="#151515" stroke-width="1.35" fill="none"/>
<rect x="843.6" y="632.5" width="12.399999999999977" height="3.7000000000000455" rx="1.5" stroke="#151515" stroke-width="1.35" fill="none"/>
<path d="M841.1 673.4L841.1 682.8L858.4 682.8L858.4 673.4" stroke="#151515" stroke-width="1.35" fill="none" stroke-linejoin="round" stroke-linecap="round" />
<path d="M158 581.5L599 581.5" stroke="#8a8a8a" stroke-width="1.2" fill="none" stroke-dasharray="11 4"/>
<path d="M300.5 452L300.5 662" stroke="#2a2a2a" stroke-width="0.75" fill="none" stroke-dasharray="22 3 4 3"/>
<path d="M413.5 512L413.5 688" stroke="#2a2a2a" stroke-width="0.75" fill="none" stroke-dasharray="22 3 4 3"/>
<path d="M487.5 467L487.5 690" stroke="#2a2a2a" stroke-width="0.75" fill="none" stroke-dasharray="22 3 4 3"/>
<rect x="209.1" y="554.7" width="323.29999999999995" height="56.69999999999993" rx="4.5" stroke="#151515" stroke-width="1.35" fill="none"/>
<rect x="353.2" y="565.6" width="55.400000000000034" height="36.39999999999998" rx="0" stroke="#151515" stroke-width="1.5" fill="none"/>
<path d="M356.09999999999997 565.6L356.09999999999997 602" stroke="#151515" stroke-width="1.35" fill="none" stroke-linejoin="round" stroke-linecap="round" />
<path d="M360.2 572.5L408.6 572.5M360.2 595.5L408.6 595.5" stroke="#2a2a2a" stroke-width="0.75" fill="none" />
<path d="M364.5 568L364.5 576M364.5 591.5L364.5 599.5" stroke="#2a2a2a" stroke-width="0.75" fill="none" />
<path d="M381.5 568L381.5 576M381.5 591.5L381.5 599.5" stroke="#2a2a2a" stroke-width="0.75" fill="none" />
<path d="M398.5 568L398.5 576M398.5 591.5L398.5 599.5" stroke="#2a2a2a" stroke-width="0.75" fill="none" />
<rect x="445.4" y="565.6" width="55.10000000000002" height="36.39999999999998" rx="0" stroke="#151515" stroke-width="1.5" fill="none"/>
<path d="M448.29999999999995 565.6L448.29999999999995 602" stroke="#151515" stroke-width="1.35" fill="none" stroke-linejoin="round" stroke-linecap="round" />
<path d="M452.4 572.5L500.5 572.5M452.4 595.5L500.5 595.5" stroke="#2a2a2a" stroke-width="0.75" fill="none" />
<path d="M456.5 568L456.5 576M456.5 591.5L456.5 599.5" stroke="#2a2a2a" stroke-width="0.75" fill="none" />
<path d="M473.5 568L473.5 576M473.5 591.5L473.5 599.5" stroke="#2a2a2a" stroke-width="0.75" fill="none" />
<path d="M490.5 568L490.5 576M490.5 591.5L490.5 599.5" stroke="#2a2a2a" stroke-width="0.75" fill="none" />
<path d="M209.1 577.1L272 577.1 Q281 576.8 284.1 573" stroke="#151515" stroke-width="1.35" fill="none" stroke-linejoin="round" stroke-linecap="round" />
<path d="M209.1 587L272 587 Q281 587.3 284.1 591" stroke="#151515" stroke-width="1.35" fill="none" stroke-linejoin="round" stroke-linecap="round" />
<path d="M284.5 576L284.5 588" stroke="#2a2a2a" stroke-width="0.75" fill="none" />
<circle cx="300.6" cy="581.8" r="8.4" stroke="#151515" stroke-width="1.35" fill="none" />
<path d="M558.4 577.1L532 577.1 Q523 576.8 519.6 572.8" stroke="#151515" stroke-width="1.35" fill="none" stroke-linejoin="round" stroke-linecap="round" />
<path d="M558.4 586.4L532 586.4 Q523 586.7 519.6 590.4" stroke="#151515" stroke-width="1.35" fill="none" stroke-linejoin="round" stroke-linecap="round" />
<path d="M183.6 581.8L183.6 542.5 Q183.6 538.6 187.5 538.1 L258.6 529.6" stroke="#151515" stroke-width="1.35" fill="none" stroke-linejoin="round" stroke-linecap="round" />
<path d="M207.5 535.6L207.5 529 Q207.5 524.8 211.7 524.8 L258.6 524.8" stroke="#151515" stroke-width="1.35" fill="none" stroke-linejoin="round" stroke-linecap="round" />
<path d="M183.6 581.8L183.6 627.5 Q183.6 631.5 187.5 631.9 L258.9 635.8" stroke="#151515" stroke-width="1.35" fill="none" stroke-linejoin="round" stroke-linecap="round" />
<path d="M558.4 581.8L558.4 542.5 Q558.4 537.8 553.7 537.2 L525.8 533" stroke="#151515" stroke-width="1.35" fill="none" stroke-linejoin="round" stroke-linecap="round" />
<path d="M511.8 532.3L521 532.3 Q525.8 532.3 525.8 537 L525.8 554.7" stroke="#151515" stroke-width="1.35" fill="none" stroke-linejoin="round" stroke-linecap="round" />
<path d="M558.4 581.8L558.4 624 Q558.4 631.5 551 632.3 L526.3 634.2 L509.9 638.6" stroke="#151515" stroke-width="1.35" fill="none" stroke-linejoin="round" stroke-linecap="round" />
<path d="M518.6 611.4L515.6 636.5M524 611.4L525.8 634.2" stroke="#151515" stroke-width="1.35" fill="none" stroke-linejoin="round" stroke-linecap="round" />
<path d="M521.5 613L521.5 634" stroke="#2a2a2a" stroke-width="0.75" fill="none" />
<path d="M190.1 548.5L204.1 548.5M197.5 542.9L197.5 554.9" stroke="#8a8a8a" stroke-width="1.0" fill="none" />
<path d="M216 543.5L230 543.5M223.5 537.9L223.5 549.9" stroke="#8a8a8a" stroke-width="1.0" fill="none" />
<path d="M245.8 543.5L259.8 543.5M252.5 537.9L252.5 549.9" stroke="#8a8a8a" stroke-width="1.0" fill="none" />
<path d="M513.9 546.5L527.9 546.5M520.5 540.6L520.5 552.6" stroke="#8a8a8a" stroke-width="1.0" fill="none" />
<path d="M541.4 546.5L555.4 546.5M548.5 540.6L548.5 552.6" stroke="#8a8a8a" stroke-width="1.0" fill="none" />
<path d="M349.5 537L349.5 553" stroke="#2a2a2a" stroke-width="0.7" fill="none" />
<path d="M374.5 537L374.5 553" stroke="#2a2a2a" stroke-width="0.7" fill="none" />
<path d="M455.5 537L455.5 553" stroke="#2a2a2a" stroke-width="0.7" fill="none" />
<path d="M341 545.5L357 545.5M366 545.5L381 545.5M448 545.5L462 545.5" stroke="#2a2a2a" stroke-width="0.7" fill="none" />
<path d="M252 531 Q248 534 248.3 541 L249.8 554.7" stroke="#151515" stroke-width="1.35" fill="none" stroke-linejoin="round" stroke-linecap="round" />
<path d="M258.9 529.8L255.9 554.7" stroke="#151515" stroke-width="1.35" fill="none" stroke-linejoin="round" stroke-linecap="round" />
<path d="M253.5 534L253.5 553" stroke="#2a2a2a" stroke-width="0.75" fill="none" />
<path d="M342.5 523.9L383.4 523.9M343 532.5L383 532.5" stroke="#151515" stroke-width="1.35" fill="none" stroke-linejoin="round" stroke-linecap="round" />
<path d="M442.9 523.9L465.8 523.9M443.4 533.5L465.5 533.5" stroke="#151515" stroke-width="1.35" fill="none" stroke-linejoin="round" stroke-linecap="round" />
<path d="M343 530.6L346 554.7M383.4 530.6L380.3 554.7" stroke="#151515" stroke-width="1.35" fill="none" stroke-linejoin="round" stroke-linecap="round" />
<path d="M442.9 530.6L445.9 554.7M465.6 532.9L463.6 554.7" stroke="#151515" stroke-width="1.35" fill="none" stroke-linejoin="round" stroke-linecap="round" />
<path d="M292.4 531.8 Q297 533 297.2 541 L297.2 554.7" stroke="#151515" stroke-width="1.35" fill="none" stroke-linejoin="round" stroke-linecap="round" />
<path d="M309 531.8 Q304.3 533 304.1 541 L304.1 554.7" stroke="#151515" stroke-width="1.35" fill="none" stroke-linejoin="round" stroke-linecap="round" />
<path d="M404 531.6 Q409 533 409.5 541 L408.8 554.7" stroke="#151515" stroke-width="1.35" fill="none" stroke-linejoin="round" stroke-linecap="round" />
<path d="M421.6 531.6 Q416.8 533 416.4 541 L417.4 554.7" stroke="#151515" stroke-width="1.35" fill="none" stroke-linejoin="round" stroke-linecap="round" />
<path d="M481 533 Q483.6 536 483.8 543 L483.9 554.7" stroke="#151515" stroke-width="1.35" fill="none" stroke-linejoin="round" stroke-linecap="round" />
<path d="M492.3 533 Q490.6 536 490.5 543 L490.4 554.7" stroke="#151515" stroke-width="1.35" fill="none" stroke-linejoin="round" stroke-linecap="round" />
<path d="M190.9 620.5L204.9 620.5M197.5 614.5L197.5 626.5" stroke="#8a8a8a" stroke-width="1.0" fill="none" />
<path d="M215.3 624.5L229.3 624.5M222.5 618.8L222.5 630.8" stroke="#8a8a8a" stroke-width="1.0" fill="none" />
<path d="M246.1 622.5L260.1 622.5M253.5 616.3L253.5 628.3" stroke="#8a8a8a" stroke-width="1.0" fill="none" />
<path d="M514.7 622.5L528.7 622.5M521.5 616.3L521.5 628.3" stroke="#8a8a8a" stroke-width="1.0" fill="none" />
<path d="M539.1 617.5L553.1 617.5M546.5 611.8L546.5 623.8" stroke="#8a8a8a" stroke-width="1.0" fill="none" />
<path d="M349.5 629.1L349.5 613.1" stroke="#2a2a2a" stroke-width="0.7" fill="none" />
<path d="M374.5 629.1L374.5 613.1" stroke="#2a2a2a" stroke-width="0.7" fill="none" />
<path d="M455.5 629.1L455.5 613.1" stroke="#2a2a2a" stroke-width="0.7" fill="none" />
<path d="M341 620.5L357 620.5M366 620.5L381 620.5M448 620.5L462 620.5" stroke="#2a2a2a" stroke-width="0.7" fill="none" />
<path d="M252 635.0999999999999 Q248 632.0999999999999 248.3 625.0999999999999 L249.8 611.3999999999999" stroke="#151515" stroke-width="1.35" fill="none" stroke-linejoin="round" stroke-linecap="round" />
<path d="M258.9 636.3L255.9 611.3999999999999" stroke="#151515" stroke-width="1.35" fill="none" stroke-linejoin="round" stroke-linecap="round" />
<path d="M253.5 632.1L253.5 613.1" stroke="#2a2a2a" stroke-width="0.75" fill="none" />
<path d="M343 635.4999999999999L346 611.3999999999999M383.4 635.4999999999999L380.3 611.3999999999999" stroke="#151515" stroke-width="1.35" fill="none" stroke-linejoin="round" stroke-linecap="round" />
<path d="M442.9 635.4999999999999L445.9 611.3999999999999M465.6 633.1999999999999L463.6 611.3999999999999" stroke="#151515" stroke-width="1.35" fill="none" stroke-linejoin="round" stroke-linecap="round" />
<path d="M292.4 634.3 Q297 633.0999999999999 297.2 625.0999999999999 L297.2 611.3999999999999" stroke="#151515" stroke-width="1.35" fill="none" stroke-linejoin="round" stroke-linecap="round" />
<path d="M309 634.3 Q304.3 633.0999999999999 304.1 625.0999999999999 L304.1 611.3999999999999" stroke="#151515" stroke-width="1.35" fill="none" stroke-linejoin="round" stroke-linecap="round" />
<path d="M404 634.4999999999999 Q409 633.0999999999999 409.5 625.0999999999999 L408.8 611.3999999999999" stroke="#151515" stroke-width="1.35" fill="none" stroke-linejoin="round" stroke-linecap="round" />
<path d="M421.6 634.4999999999999 Q416.8 633.0999999999999 416.4 625.0999999999999 L417.4 611.3999999999999" stroke="#151515" stroke-width="1.35" fill="none" stroke-linejoin="round" stroke-linecap="round" />
<path d="M481 633.0999999999999 Q483.6 630.0999999999999 483.8 623.0999999999999 L483.9 611.3999999999999" stroke="#151515" stroke-width="1.35" fill="none" stroke-linejoin="round" stroke-linecap="round" />
<path d="M492.3 633.0999999999999 Q490.6 630.0999999999999 490.5 623.0999999999999 L490.4 611.3999999999999" stroke="#151515" stroke-width="1.35" fill="none" stroke-linejoin="round" stroke-linecap="round" />
<rect x="258.8" y="521.4" width="83.69999999999999" height="8.5" rx="0" stroke="#151515" stroke-width="1.35" fill="none"/>
<path d="M258.8 527.5L342.5 527.5" stroke="#8a8a8a" stroke-width="1.1" fill="none" />
<path d="M263.5 516L263.5 536M337.5 516L337.5 536" stroke="#2a2a2a" stroke-width="0.75" fill="none" />
<path d="M279.6 521.4L279.6 507.3L320.7 507.3L320.7 521.4" stroke="#151515" stroke-width="1.35" fill="none" stroke-linejoin="round" stroke-linecap="round" />
<rect x="283.7" y="462" width="33.60000000000002" height="45.30000000000001" rx="0" stroke="#151515" stroke-width="1.35" fill="none"/>
<rect x="295.6" y="464.4" width="10.4" height="41" rx="5.2" stroke="#151515" stroke-width="1.35" fill="none"/>
<rect x="383.6" y="520.6" width="59.299999999999955" height="9.5" rx="0" stroke="#151515" stroke-width="1.35" fill="none"/>
<path d="M383.6 526.4L442.9 526.4" stroke="#151515" stroke-width="1.35" fill="none" stroke-linejoin="round" stroke-linecap="round" />
<path d="M388.5 515L388.5 536M437.5 515L437.5 536" stroke="#2a2a2a" stroke-width="0.75" fill="none" />
<rect x="465.6" y="521.2" width="46.0" height="10.899999999999977" rx="0" stroke="#151515" stroke-width="1.35" fill="none"/>
<path d="M465.6 526L511.6 526" stroke="#151515" stroke-width="1.35" fill="none" stroke-linejoin="round" stroke-linecap="round" />
<path d="M469.5 516L469.5 537M507.5 516L507.5 537" stroke="#2a2a2a" stroke-width="0.75" fill="none" />
<rect x="471.4" y="478" width="33.5" height="43.200000000000045" rx="0" stroke="#151515" stroke-width="1.35" fill="none"/>
<rect x="258.9" y="635.8" width="83.60000000000002" height="9.100000000000023" rx="0" stroke="#151515" stroke-width="1.35" fill="none"/>
<path d="M258.9 640.3L342.5 640.3" stroke="#151515" stroke-width="1.35" fill="none" stroke-linejoin="round" stroke-linecap="round" />
<path d="M263.5 631L263.5 651M337.5 631L337.5 651" stroke="#2a2a2a" stroke-width="0.75" fill="none" />
<path d="M207.5 634.2L207.5 640.7 Q207.5 644.9 211.7 644.9L258.9 644.9" stroke="#151515" stroke-width="1.35" fill="none" stroke-linejoin="round" stroke-linecap="round" />
<path d="M270.3 644.9L270.3 650.7L326 650.7L326 644.9" stroke="#151515" stroke-width="1.35" fill="none" stroke-linejoin="round" stroke-linecap="round" />
<path d="M283 650.7L283 655.6L316.9 655.6L316.9 650.7" stroke="#151515" stroke-width="1.35" fill="none" stroke-linejoin="round" stroke-linecap="round" />
<path d="M283 655L316.9 655" stroke="#151515" stroke-width="1.6" fill="none" />
<rect x="384" y="635.8" width="58.89999999999998" height="9.700000000000045" rx="0" stroke="#151515" stroke-width="1.35" fill="none"/>
<path d="M384 639.8L442.9 639.8" stroke="#151515" stroke-width="1.35" fill="none" stroke-linejoin="round" stroke-linecap="round" />
<path d="M388.5 631L388.5 651M437.5 631L437.5 651" stroke="#2a2a2a" stroke-width="0.75" fill="none" />
<path d="M343.5 634.6L383.5 634.6M342.5 639.9L384 639.9M342.5 644.2L384 644.2M443.4 635.3L464.5 635.3M442.9 639.9L464.5 639.9M442.9 644.4L464.5 644.4" stroke="#151515" stroke-width="1.35" fill="none" stroke-linejoin="round" stroke-linecap="round" />
<rect x="464.5" y="635.5" width="45.30000000000001" height="11.700000000000045" rx="0" stroke="#151515" stroke-width="1.35" fill="none"/>
<path d="M464.5 639.8L509.8 639.8" stroke="#151515" stroke-width="1.35" fill="none" stroke-linejoin="round" stroke-linecap="round" />
<path d="M469.5 631L469.5 652M505.5 631L505.5 652" stroke="#2a2a2a" stroke-width="0.75" fill="none" />
<path d="M474.4 647.2L474.4 654.1L500.3 654.1L500.3 647.2" stroke="#151515" stroke-width="1.35" fill="none" stroke-linejoin="round" stroke-linecap="round" />
<rect x="475.9" y="654.1" width="22.600000000000023" height="32.299999999999955" rx="0" stroke="#151515" stroke-width="1.35" fill="none"/>
<rect x="483.9" y="656.7" width="8" height="26.3" rx="4" stroke="#151515" stroke-width="1.35" fill="none"/>
<path d="M283.5 446L283.5 462M317.5 446L317.5 462" stroke="#2a2a2a" stroke-width="0.75" fill="none" />
<path d="M283.7 451.5L317.3 451.5" stroke="#2a2a2a" stroke-width="0.75" fill="none" />
<path d="M283.70 451.50L291.30 449.25L289.17 451.50L291.30 453.75Z" fill="#151515"/>
<path d="M317.30 451.50L309.70 453.75L311.83 451.50L309.70 449.25Z" fill="#151515"/>
<path d="M317.3 451.5L363.5 451.5" stroke="#8a8a8a" stroke-width="0.9" fill="none" />
<text x="343.6" y="448.3" font-size="14" text-anchor="middle" font-family="Liberation Serif, serif" font-weight="normal" stroke="#151515" stroke-width="0.3">D1(r6)</text>
<path d="M158.3 462.5L283.7 462.5" stroke="#2a2a2a" stroke-width="0.75" fill="none" />
<path d="M164.5 462L164.5 581.8" stroke="#2a2a2a" stroke-width="0.75" fill="none" />
<path d="M164.50 462.00L166.75 469.60L164.50 467.47L162.25 469.60Z" fill="#151515"/>
<path d="M164.50 581.80L162.25 574.20L164.50 576.33L166.75 574.20Z" fill="#151515"/>
<text x="160.5" y="518" font-size="14" text-anchor="middle" font-family="Liberation Serif, serif" font-weight="normal" stroke="#151515" stroke-width="0.3" transform="rotate(-90 160.5 518)">T</text>
<path d="M210.9 507.5L279.6 507.5" stroke="#2a2a2a" stroke-width="0.75" fill="none" />
<path d="M217.5 462L217.5 507.3" stroke="#2a2a2a" stroke-width="0.75" fill="none" />
<path d="M217.50 462.00L219.75 469.60L217.50 467.47L215.25 469.60Z" fill="#151515"/>
<path d="M217.50 507.30L215.25 499.70L217.50 501.83L219.75 499.70Z" fill="#151515"/>
<text x="213.5" y="486" font-size="13" text-anchor="middle" font-family="Liberation Serif, serif" font-weight="normal" stroke="#151515" stroke-width="0.3" transform="rotate(-90 213.5 486)">l1</text>
<path d="M158.3 656.5L283 656.5" stroke="#2a2a2a" stroke-width="0.75" fill="none" />
<path d="M164.5 581.8L164.5 656.7" stroke="#2a2a2a" stroke-width="0.75" fill="none" />
<path d="M164.50 581.80L166.75 589.40L164.50 587.27L162.25 589.40Z" fill="#151515"/>
<path d="M164.50 656.70L162.25 649.10L164.50 651.23L166.75 649.10Z" fill="#151515"/>
<text x="160.5" y="619.5" font-size="14" text-anchor="middle" font-family="Liberation Serif, serif" font-weight="normal" stroke="#151515" stroke-width="0.3" transform="rotate(-90 160.5 619.5)">T1</text>
<path d="M198.6 651.5L270.3 651.5" stroke="#2a2a2a" stroke-width="0.75" fill="none" />
<path d="M202.5 635L202.5 651.3M202.5 656.7L202.5 667.8" stroke="#2a2a2a" stroke-width="0.75" fill="none" />
<path d="M202.50 651.30L200.25 643.70L202.50 645.83L204.75 643.70Z" fill="#151515"/>
<path d="M202.50 656.70L204.75 664.30L202.50 662.17L200.25 664.30Z" fill="#151515"/>
<text x="199.5" y="663.8" font-size="14" text-anchor="middle" font-family="Liberation Serif, serif" font-weight="normal" stroke="#151515" stroke-width="0.3" transform="rotate(-90 199.5 663.8)">5</text>
<path d="M283.5 655.6L283.5 672M316.5 655.6L316.5 672" stroke="#2a2a2a" stroke-width="0.75" fill="none" />
<path d="M283 668.5L316.9 668.5" stroke="#2a2a2a" stroke-width="0.75" fill="none" />
<path d="M283.00 668.50L290.60 666.25L288.47 668.50L290.60 670.75Z" fill="#151515"/>
<path d="M316.90 668.50L309.30 670.75L311.43 668.50L309.30 666.25Z" fill="#151515"/>
<path d="M316.8 668.5L356.5 668.5" stroke="#8a8a8a" stroke-width="0.9" fill="none" />
<text x="348.6" y="666.3" font-size="14" text-anchor="middle" font-family="Liberation Serif, serif" font-weight="normal" stroke="#151515" stroke-width="0.3">D2(h8)</text>
<path d="M270.5 651L270.5 695M325.5 651L325.5 695" stroke="#2a2a2a" stroke-width="0.75" fill="none" />
<path d="M270.6 689.5L325.4 689.5" stroke="#2a2a2a" stroke-width="0.75" fill="none" />
<path d="M270.60 689.50L278.20 687.25L276.07 689.50L278.20 691.75Z" fill="#151515"/>
<path d="M325.40 689.50L317.80 691.75L319.93 689.50L317.80 687.25Z" fill="#151515"/>
<text x="297.9" y="686.8" font-size="14" text-anchor="middle" font-family="Liberation Serif, serif" font-weight="normal" stroke="#151515" stroke-width="0.3">d4</text>
<text x="297" y="721" font-size="13.5" text-anchor="middle" font-family="Liberation Serif, serif" font-weight="bold" stroke="#151515" stroke-width="0.3">K</text>
<path d="M306.5 724.4L306.5 708" stroke="#8a8a8a" stroke-width="0.9" fill="none" />
<path d="M306.50 706.40L308.75 714.00L306.50 711.87L304.25 714.00Z" fill="#151515"/>
<path d="M504.9 478.5L587.6 478.5" stroke="#2a2a2a" stroke-width="0.75" fill="none" />
<path d="M575.5 478.4L575.5 581.8" stroke="#2a2a2a" stroke-width="0.75" fill="none" />
<path d="M575.50 478.40L577.75 486.00L575.50 483.87L573.25 486.00Z" fill="#151515"/>
<path d="M575.50 581.80L573.25 574.20L575.50 576.33L577.75 574.20Z" fill="#151515"/>
<text x="572" y="533" font-size="14" text-anchor="middle" font-family="Liberation Serif, serif" font-weight="normal" stroke="#151515" stroke-width="0.3" transform="rotate(-90 572 533)">S1</text>
<path d="M498.5 686.5L598 686.5" stroke="#2a2a2a" stroke-width="0.75" fill="none" />
<path d="M575.5 581.8L575.5 686.4" stroke="#8a8a8a" stroke-width="1.2" fill="none" />
<path d="M575.50 581.80L577.75 589.40L575.50 587.27L573.25 589.40Z" fill="#151515"/>
<path d="M575.50 686.40L573.25 678.80L575.50 680.93L577.75 678.80Z" fill="#151515"/>
<text x="572" y="639.8" font-size="14" text-anchor="middle" font-family="Liberation Serif, serif" font-weight="normal" stroke="#151515" stroke-width="0.3" transform="rotate(-90 572 639.8)">S</text>
<path d="M500.3 654.5L562.1 654.5" stroke="#2a2a2a" stroke-width="0.75" fill="none" />
<path d="M552.5 654.1L552.5 686.4" stroke="#2a2a2a" stroke-width="0.75" fill="none" />
<path d="M552.50 654.10L554.75 661.70L552.50 659.57L550.25 661.70Z" fill="#151515"/>
<path d="M552.50 686.40L550.25 678.80L552.50 680.93L554.75 678.80Z" fill="#151515"/>
<text x="549.5" y="668.4" font-size="14" text-anchor="middle" font-family="Liberation Serif, serif" font-weight="normal" stroke="#151515" stroke-width="0.3" transform="rotate(-90 549.5 668.4)">l</text>
<path d="M475.5 686.4L475.5 714M498.5 686.4L498.5 714" stroke="#2a2a2a" stroke-width="0.75" fill="none" />
<path d="M475.9 710.5L498.5 710.5" stroke="#2a2a2a" stroke-width="0.75" fill="none" />
<path d="M475.90 710.50L483.50 708.25L481.37 710.50L483.50 712.75Z" fill="#151515"/>
<path d="M498.50 710.50L490.90 712.75L493.03 710.50L490.90 708.25Z" fill="#151515"/>
<path d="M498.5 710.5L535 710.5" stroke="#8a8a8a" stroke-width="0.9" fill="none" />
<text x="520.1" y="706" font-size="14" text-anchor="middle" font-family="Liberation Serif, serif" font-weight="normal" stroke="#151515" stroke-width="0.3">D(r6)</text>
<text transform="translate(33.85,31.30) scale(0.76,1)" font-size="20" text-anchor="middle" font-family="Liberation Sans, sans-serif" stroke="#1a1a1a" stroke-width="0.45">4</text><text x="39.1" y="31" font-size="20.8" font-family="'Liberation Sans', 'Noto Sans CJK SC', sans-serif" stroke="#1a1a1a" stroke-width="0.17">、</text><text transform="translate(65.35,31.30) scale(0.76,1)" font-size="20" text-anchor="middle" font-family="Liberation Sans, sans-serif" stroke="#1a1a1a" stroke-width="0.45">Z</text><text transform="translate(75.85,31.30) scale(0.76,1)" font-size="20" text-anchor="middle" font-family="Liberation Sans, sans-serif" stroke="#1a1a1a" stroke-width="0.45">L</text><text x="81.1" y="31" font-size="20.8" font-family="'Liberation Sans', 'Noto Sans CJK SC', sans-serif" stroke="#1a1a1a" stroke-width="0.17">、</text><text transform="translate(107.35,31.30) scale(0.76,1)" font-size="20" text-anchor="middle" font-family="Liberation Sans, sans-serif" stroke="#1a1a1a" stroke-width="0.45">Z</text><text transform="translate(117.85,31.30) scale(0.76,1)" font-size="20" text-anchor="middle" font-family="Liberation Sans, sans-serif" stroke="#1a1a1a" stroke-width="0.45">L</text><text transform="translate(128.35,31.30) scale(0.76,1)" font-size="20" text-anchor="middle" font-family="Liberation Sans, sans-serif" stroke="#1a1a1a" stroke-width="0.45">H</text><text x="133.6" y="31" font-size="20.8" font-family="'Liberation Sans', 'Noto Sans CJK SC', sans-serif" stroke="#1a1a1a" stroke-width="0.17">、</text><text transform="translate(159.85,31.30) scale(0.76,1)" font-size="20" text-anchor="middle" font-family="Liberation Sans, sans-serif" stroke="#1a1a1a" stroke-width="0.45">Z</text><text transform="translate(170.35,31.30) scale(0.76,1)" font-size="20" text-anchor="middle" font-family="Liberation Sans, sans-serif" stroke="#1a1a1a" stroke-width="0.45">L</text><text transform="translate(180.85,31.30) scale(0.76,1)" font-size="20" text-anchor="middle" font-family="Liberation Sans, sans-serif" stroke="#1a1a1a" stroke-width="0.45">S</text><text transform="translate(191.35,31.30) scale(0.76,1)" font-size="20" text-anchor="middle" font-family="Liberation Sans, sans-serif" stroke="#1a1a1a" stroke-width="0.45">H</text><text x="197" y="31" font-size="20.8" letter-spacing="0.2" font-family="'Liberation Sans', 'Noto Sans CJK SC', sans-serif" stroke="#1a1a1a" stroke-width="0.17">型减速器外形安装尺寸、装配型式和配用功率</text><circle cx="619" cy="27.3" r="1.0" fill="#1a1a1a"/><circle cx="619" cy="31.3" r="1.0" fill="#1a1a1a"/><rect x="8.3" y="760.0" width="1033.0" height="291.155" fill="none" stroke="#1a1a1a" stroke-width="1.6"/><path d="M81.30 760.00L81.30 1051.15" stroke="#1a1a1a" stroke-width="1.45" fill="none"/><path d="M127.70 781.20L127.70 1051.15" stroke="#1a1a1a" stroke-width="1.45" fill="none"/><path d="M174.00 781.20L174.00 1051.15" stroke="#1a1a1a" stroke-width="1.45" fill="none"/><path d="M220.70 760.00L220.70 1051.15" stroke="#1a1a1a" stroke-width="1.45" fill="none"/><path d="M294.50 760.00L294.50 1051.15" stroke="#1a1a1a" stroke-width="1.45" fill="none"/><path d="M341.00 781.20L341.00 1051.15" stroke="#1a1a1a" stroke-width="1.45" fill="none"/><path d="M386.70 781.20L386.70 1051.15" stroke="#1a1a1a" stroke-width="1.45" fill="none"/><path d="M432.70 760.00L432.70 1051.15" stroke="#1a1a1a" stroke-width="1.45" fill="none"/><path d="M479.00 760.00L479.00 1051.15" stroke="#1a1a1a" stroke-width="1.45" fill="none"/><path d="M532.70 760.00L532.70 1051.15" stroke="#1a1a1a" stroke-width="1.45" fill="none"/><path d="M580.50 760.00L580.50 1051.15" stroke="#1a1a1a" stroke-width="1.45" fill="none"/><path d="M631.00 760.00L631.00 1051.15" stroke="#1a1a1a" stroke-width="1.45" fill="none"/><path d="M681.70 760.00L681.70 1051.15" stroke="#1a1a1a" stroke-width="1.45" fill="none"/><path d="M725.70 760.00L725.70 1051.15" stroke="#1a1a1a" stroke-width="1.45" fill="none"/><path d="M772.30 781.20L772.30 1051.15" stroke="#1a1a1a" stroke-width="1.45" fill="none"/><path d="M816.00 781.20L816.00 1051.15" stroke="#1a1a1a" stroke-width="1.45" fill="none"/><path d="M862.00 781.20L862.00 1051.15" stroke="#1a1a1a" stroke-width="1.45" fill="none"/><path d="M907.00 781.20L907.00 1051.15" stroke="#1a1a1a" stroke-width="1.45" fill="none"/><path d="M951.50 781.20L951.50 1051.15" stroke="#1a1a1a" stroke-width="1.45" fill="none"/><path d="M996.30 781.20L996.30 1051.15" stroke="#1a1a1a" stroke-width="1.45" fill="none"/><path d="M81.30 781.20L220.70 781.20" stroke="#1a1a1a" stroke-width="1.45" fill="none"/><path d="M220.70 781.20L294.50 781.20" stroke="#1a1a1a" stroke-width="1.45" fill="none"/><path d="M294.50 781.20L432.70 781.20" stroke="#1a1a1a" stroke-width="1.45" fill="none"/><path d="M725.70 782.10L1041.30 782.10" stroke="#1a1a1a" stroke-width="1.45" fill="none"/><path d="M8.30 803.60L1041.30 803.60" stroke="#1a1a1a" stroke-width="1.45" fill="none"/><path d="M8.30 826.11L725.70 826.11" stroke="#1a1a1a" stroke-width="1.45" fill="none"/><path d="M816.00 826.11L1041.30 826.11" stroke="#1a1a1a" stroke-width="1.45" fill="none"/><path d="M8.30 848.61L725.70 848.61" stroke="#1a1a1a" stroke-width="1.45" fill="none"/><path d="M816.00 848.61L1041.30 848.61" stroke="#1a1a1a" stroke-width="1.45" fill="none"/><path d="M8.30 871.12L725.70 871.12" stroke="#1a1a1a" stroke-width="1.45" fill="none"/><path d="M816.00 871.12L1041.30 871.12" stroke="#1a1a1a" stroke-width="1.45" fill="none"/><path d="M725.70 871.12L772.30 871.12" stroke="#1a1a1a" stroke-width="1.45" fill="none"/><path d="M772.30 871.12L816.00 871.12" stroke="#1a1a1a" stroke-width="1.45" fill="none"/><path d="M8.30 893.62L725.70 893.62" stroke="#1a1a1a" stroke-width="1.45" fill="none"/><path d="M816.00 893.62L1041.30 893.62" stroke="#1a1a1a" stroke-width="1.45" fill="none"/><path d="M8.30 916.12L725.70 916.12" stroke="#1a1a1a" stroke-width="1.45" fill="none"/><path d="M816.00 916.12L1041.30 916.12" stroke="#1a1a1a" stroke-width="1.45" fill="none"/><path d="M725.70 916.12L772.30 916.12" stroke="#1a1a1a" stroke-width="1.45" fill="none"/><path d="M8.30 938.63L725.70 938.63" stroke="#1a1a1a" stroke-width="1.45" fill="none"/><path d="M816.00 938.63L1041.30 938.63" stroke="#1a1a1a" stroke-width="1.45" fill="none"/><path d="M8.30 961.13L725.70 961.13" stroke="#1a1a1a" stroke-width="1.45" fill="none"/><path d="M816.00 961.13L1041.30 961.13" stroke="#1a1a1a" stroke-width="1.45" fill="none"/><path d="M725.70 961.13L772.30 961.13" stroke="#1a1a1a" stroke-width="1.45" fill="none"/><path d="M8.30 983.64L725.70 983.64" stroke="#1a1a1a" stroke-width="1.45" fill="none"/><path d="M816.00 983.64L1041.30 983.64" stroke="#1a1a1a" stroke-width="1.45" fill="none"/><path d="M8.30 1006.14L725.70 1006.14" stroke="#1a1a1a" stroke-width="1.45" fill="none"/><path d="M816.00 1006.14L1041.30 1006.14" stroke="#1a1a1a" stroke-width="1.45" fill="none"/><path d="M725.70 1006.14L772.30 1006.14" stroke="#1a1a1a" stroke-width="1.45" fill="none"/><path d="M8.30 1028.65L725.70 1028.65" stroke="#1a1a1a" stroke-width="1.45" fill="none"/><path d="M816.00 1028.65L1041.30 1028.65" stroke="#1a1a1a" stroke-width="1.45" fill="none"/><text x="23.15 46.35" y="790.8" font-size="16.5" font-family="'Liberation Sans', 'Noto Sans CJK SC', sans-serif" stroke="#1a1a1a" stroke-width="0.25">型号</text><text x="113.75 136.05 158.35" y="776.9" font-size="16.5" font-family="'Liberation Sans', 'Noto Sans CJK SC', sans-serif" stroke="#1a1a1a" stroke-width="0.25">中心距</text><text x="232.85 249.35 265.85" y="776.9" font-size="16.5" font-family="'Liberation Sans', 'Noto Sans CJK SC', sans-serif" stroke="#1a1a1a" stroke-width="0.25">中心高</text><text x="324.15 340.95 357.75 374.55" y="776.9" font-size="16.5" font-family="'Liberation Sans', 'Noto Sans CJK SC', sans-serif" stroke="#1a1a1a" stroke-width="0.25">轮廓尺寸</text><text x="839.5 861.4 883.3 905.2" y="776.9" font-size="16.5" font-family="'Liberation Sans', 'Noto Sans CJK SC', sans-serif" stroke="#1a1a1a" stroke-width="0.25">地脚螺钉</text><text transform="translate(104.50,799.70) scale(1.055,1)" font-size="16.3" text-anchor="middle" font-family="Liberation Sans, sans-serif" >a</text><text transform="translate(150.85,799.70) scale(1.055,1)" font-size="16.3" text-anchor="middle" font-family="Liberation Sans, sans-serif">a<tspan font-size="10" dx="1.5">1</tspan></text><text transform="translate(197.35,799.70) scale(1.055,1)" font-size="16.3" text-anchor="middle" font-family="Liberation Sans, sans-serif">a<tspan font-size="10" dx="1.5">2</tspan></text><text transform="translate(257.60,799.70) scale(1.055,1)" font-size="16.3" text-anchor="middle" font-family="Liberation Sans, sans-serif">H<tspan font-size="10" dx="1.5">0</tspan></text><text transform="translate(317.75,799.70) scale(1.055,1)" font-size="16.3" text-anchor="middle" font-family="Liberation Sans, sans-serif" >H</text><text transform="translate(363.85,799.70) scale(1.055,1)" font-size="16.3" text-anchor="middle" font-family="Liberation Sans, sans-serif" >L</text><text transform="translate(409.70,799.70) scale(1.055,1)" font-size="16.3" text-anchor="middle" font-family="Liberation Sans, sans-serif" >B</text><text transform="translate(455.85,791.80) scale(1.055,1)" font-size="16.3" text-anchor="middle" font-family="Liberation Sans, sans-serif">B<tspan font-size="10" dx="1.5">1</tspan></text><text transform="translate(505.85,791.80) scale(1.055,1)" font-size="16.3" text-anchor="middle" font-family="Liberation Sans, sans-serif">B<tspan font-size="10" dx="1.5">2</tspan></text><text transform="translate(556.60,791.80) scale(1.055,1)" font-size="16.3" text-anchor="middle" font-family="Liberation Sans, sans-serif">L<tspan font-size="10" dx="1.5">1</tspan></text><text transform="translate(611.75,791.80) scale(1.055,1)" font-size="16.3" text-anchor="middle" font-family="Liberation Sans, sans-serif">L<tspan font-size="10" dx="1.5">2</tspan></text><text transform="translate(662.35,791.80) scale(1.055,1)" font-size="16.3" text-anchor="middle" font-family="Liberation Sans, sans-serif">L<tspan font-size="10" dx="1.5">3</tspan></text><text transform="translate(709.70,791.80) scale(1.055,1)" font-size="16.3" text-anchor="middle" font-family="Liberation Sans, sans-serif">H<tspan font-size="10" dx="1.5">1</tspan></text><text transform="translate(746.70,799.70) scale(1.055,1)" font-size="16.3" text-anchor="middle" font-family="Liberation Sans, sans-serif" >d</text><text transform="translate(794.65,799.70) scale(1.055,1)" font-size="16.3" text-anchor="middle" font-family="Liberation Sans, sans-serif" >n</text><text transform="translate(837.00,799.70) scale(1.055,1)" font-size="16.3" text-anchor="middle" font-family="Liberation Sans, sans-serif">B<tspan font-size="10" dx="1.5">3</tspan></text><text transform="translate(884.50,799.70) scale(1.055,1)" font-size="16.3" text-anchor="middle" font-family="Liberation Sans, sans-serif">L<tspan font-size="10" dx="1.5">4</tspan></text><text transform="translate(929.25,799.70) scale(1.055,1)" font-size="16.3" text-anchor="middle" font-family="Liberation Sans, sans-serif">L<tspan font-size="10" dx="1.5">5</tspan></text><text transform="translate(973.90,799.70) scale(1.055,1)" font-size="16.3" text-anchor="middle" font-family="Liberation Sans, sans-serif">L<tspan font-size="10" dx="1.5">6</tspan></text><text transform="translate(1018.80,799.70) scale(1.055,1)" font-size="16.3" text-anchor="middle" font-family="Liberation Sans, sans-serif">L<tspan font-size="10" dx="1.5">7</tspan></text><text transform="translate(44.80,821.70) scale(1.055,1)" font-size="16.3" text-anchor="middle" font-family="Liberation Sans, sans-serif" >25</text><text transform="translate(104.50,821.70) scale(1.055,1)" font-size="16.3" text-anchor="middle" font-family="Liberation Sans, sans-serif" >250</text><text transform="translate(150.85,821.70) scale(1.055,1)" font-size="16.3" text-anchor="middle" font-family="Liberation Sans, sans-serif" >100</text><text transform="translate(197.35,821.70) scale(1.055,1)" font-size="16.3" text-anchor="middle" font-family="Liberation Sans, sans-serif" >150</text><text transform="translate(222.50,821.70) scale(1.055,1)" font-size="16.3" font-family="Liberation Sans, sans-serif">200<tspan font-size="10">-0.5</tspan></text><text transform="translate(317.75,821.70) scale(1.055,1)" font-size="16.3" text-anchor="middle" font-family="Liberation Sans, sans-serif" >398</text><text transform="translate(363.85,821.70) scale(1.055,1)" font-size="16.3" text-anchor="middle" font-family="Liberation Sans, sans-serif" >560</text><text transform="translate(409.70,821.70) scale(1.055,1)" font-size="16.3" text-anchor="middle" font-family="Liberation Sans, sans-serif" >256</text><text transform="translate(453.35,821.70) scale(1.055,1)" font-size="16.3" text-anchor="middle" font-family="Liberation Sans, sans-serif" >256</text><text transform="translate(505.85,821.70) scale(1.055,1)" font-size="16.3" text-anchor="middle" font-family="Liberation Sans, sans-serif" >70</text><text transform="translate(552.60,821.70) scale(1.055,1)" font-size="16.3" text-anchor="middle" font-family="Liberation Sans, sans-serif" >435</text><text transform="translate(605.75,821.70) scale(1.055,1)" font-size="16.3" text-anchor="middle" font-family="Liberation Sans, sans-serif" >-35</text><text transform="translate(656.35,821.70) scale(1.055,1)" font-size="16.3" text-anchor="middle" font-family="Liberation Sans, sans-serif" >120</text><text transform="translate(705.70,821.70) scale(1.055,1)" font-size="16.3" text-anchor="middle" font-family="Liberation Sans, sans-serif" >20</text><text transform="translate(839.00,821.70) scale(1.055,1)" font-size="16.3" text-anchor="middle" font-family="Liberation Sans, sans-serif" >210</text><text transform="translate(884.50,821.70) scale(1.055,1)" font-size="16.3" text-anchor="middle" font-family="Liberation Sans, sans-serif" >-5</text><text transform="translate(928.45,821.70) scale(1.055,1)" font-size="16.3" text-anchor="middle" font-family="Liberation Sans, sans-serif" >175</text><text transform="translate(973.90,821.70) scale(1.055,1)" font-size="16.3" text-anchor="middle" font-family="Liberation Sans, sans-serif" >205</text><text transform="translate(1017.30,821.70) scale(1.055,1)" font-size="16.3" text-anchor="middle" font-family="Liberation Sans, sans-serif" >-</text><text transform="translate(44.80,844.17) scale(1.055,1)" font-size="16.3" text-anchor="middle" font-family="Liberation Sans, sans-serif" >35</text><text transform="translate(104.50,844.17) scale(1.055,1)" font-size="16.3" text-anchor="middle" font-family="Liberation Sans, sans-serif" >350</text><text transform="translate(150.85,844.17) scale(1.055,1)" font-size="16.3" text-anchor="middle" font-family="Liberation Sans, sans-serif" >150</text><text transform="translate(197.35,844.17) scale(1.055,1)" font-size="16.3" text-anchor="middle" font-family="Liberation Sans, sans-serif" >200</text><text transform="translate(222.50,844.17) scale(1.055,1)" font-size="16.3" font-family="Liberation Sans, sans-serif">250<tspan font-size="10">-0.5</tspan></text><text transform="translate(317.75,844.17) scale(1.055,1)" font-size="16.3" text-anchor="middle" font-family="Liberation Sans, sans-serif" >493</text><text transform="translate(363.85,844.17) scale(1.055,1)" font-size="16.3" text-anchor="middle" font-family="Liberation Sans, sans-serif" >720</text><text transform="translate(409.70,844.17) scale(1.055,1)" font-size="16.3" text-anchor="middle" font-family="Liberation Sans, sans-serif" >316</text><text transform="translate(453.35,844.17) scale(1.055,1)" font-size="16.3" text-anchor="middle" font-family="Liberation Sans, sans-serif" >316</text><text transform="translate(505.85,844.17) scale(1.055,1)" font-size="16.3" text-anchor="middle" font-family="Liberation Sans, sans-serif" >80</text><text transform="translate(552.60,844.17) scale(1.055,1)" font-size="16.3" text-anchor="middle" font-family="Liberation Sans, sans-serif" >585</text><text transform="translate(605.75,844.17) scale(1.055,1)" font-size="16.3" text-anchor="middle" font-family="Liberation Sans, sans-serif" >-40</text><text transform="translate(656.35,844.17) scale(1.055,1)" font-size="16.3" text-anchor="middle" font-family="Liberation Sans, sans-serif" >135</text><text transform="translate(705.70,844.17) scale(1.055,1)" font-size="16.3" text-anchor="middle" font-family="Liberation Sans, sans-serif" >20</text><text transform="translate(839.00,844.17) scale(1.055,1)" font-size="16.3" text-anchor="middle" font-family="Liberation Sans, sans-serif" >260</text><text transform="translate(884.50,844.17) scale(1.055,1)" font-size="16.3" text-anchor="middle" font-family="Liberation Sans, sans-serif" >0</text><text transform="translate(928.45,844.17) scale(1.055,1)" font-size="16.3" text-anchor="middle" font-family="Liberation Sans, sans-serif" >255</text><text transform="translate(973.90,844.17) scale(1.055,1)" font-size="16.3" text-anchor="middle" font-family="Liberation Sans, sans-serif" >255</text><text transform="translate(1017.30,844.17) scale(1.055,1)" font-size="16.3" text-anchor="middle" font-family="Liberation Sans, sans-serif" >-</text><text transform="translate(44.80,866.64) scale(1.055,1)" font-size="16.3" text-anchor="middle" font-family="Liberation Sans, sans-serif" >42.5</text><text transform="translate(104.50,866.64) scale(1.055,1)" font-size="16.3" text-anchor="middle" font-family="Liberation Sans, sans-serif" >425</text><text transform="translate(150.85,866.64) scale(1.055,1)" font-size="16.3" text-anchor="middle" font-family="Liberation Sans, sans-serif" >175</text><text transform="translate(197.35,866.64) scale(1.055,1)" font-size="16.3" text-anchor="middle" font-family="Liberation Sans, sans-serif" >250</text><text transform="translate(222.50,866.64) scale(1.055,1)" font-size="16.3" font-family="Liberation Sans, sans-serif">300<tspan font-size="10">-0.5</tspan></text><text transform="translate(317.75,866.64) scale(1.055,1)" font-size="16.3" text-anchor="middle" font-family="Liberation Sans, sans-serif" >588</text><text transform="translate(363.85,866.64) scale(1.055,1)" font-size="16.3" text-anchor="middle" font-family="Liberation Sans, sans-serif" >860</text><text transform="translate(409.70,866.64) scale(1.055,1)" font-size="16.3" text-anchor="middle" font-family="Liberation Sans, sans-serif" >346</text><text transform="translate(453.35,866.64) scale(1.055,1)" font-size="16.3" text-anchor="middle" font-family="Liberation Sans, sans-serif" >346</text><text transform="translate(505.85,866.64) scale(1.055,1)" font-size="16.3" text-anchor="middle" font-family="Liberation Sans, sans-serif" >80</text><text transform="translate(552.60,866.64) scale(1.055,1)" font-size="16.3" text-anchor="middle" font-family="Liberation Sans, sans-serif" >705</text><text transform="translate(605.75,866.64) scale(1.055,1)" font-size="16.3" text-anchor="middle" font-family="Liberation Sans, sans-serif" >-39</text><text transform="translate(656.35,866.64) scale(1.055,1)" font-size="16.3" text-anchor="middle" font-family="Liberation Sans, sans-serif" >149</text><text transform="translate(705.70,866.64) scale(1.055,1)" font-size="16.3" text-anchor="middle" font-family="Liberation Sans, sans-serif" >25</text><text transform="translate(839.00,866.64) scale(1.055,1)" font-size="16.3" text-anchor="middle" font-family="Liberation Sans, sans-serif" >280</text><text transform="translate(884.50,866.64) scale(1.055,1)" font-size="16.3" text-anchor="middle" font-family="Liberation Sans, sans-serif" >10</text><text transform="translate(928.45,866.64) scale(1.055,1)" font-size="16.3" text-anchor="middle" font-family="Liberation Sans, sans-serif" >275</text><text transform="translate(973.90,866.64) scale(1.055,1)" font-size="16.3" text-anchor="middle" font-family="Liberation Sans, sans-serif" >335</text><text transform="translate(1017.30,866.64) scale(1.055,1)" font-size="16.3" text-anchor="middle" font-family="Liberation Sans, sans-serif" >-</text><text transform="translate(44.80,889.11) scale(1.055,1)" font-size="16.3" text-anchor="middle" font-family="Liberation Sans, sans-serif" >50</text><text transform="translate(104.50,889.11) scale(1.055,1)" font-size="16.3" text-anchor="middle" font-family="Liberation Sans, sans-serif" >500</text><text transform="translate(150.85,889.11) scale(1.055,1)" font-size="16.3" text-anchor="middle" font-family="Liberation Sans, sans-serif" >200</text><text transform="translate(197.35,889.11) scale(1.055,1)" font-size="16.3" text-anchor="middle" font-family="Liberation Sans, sans-serif" >300</text><text transform="translate(222.50,889.11) scale(1.055,1)" font-size="16.3" font-family="Liberation Sans, sans-serif">350<tspan font-size="10">-0.5</tspan></text><text transform="translate(317.75,889.11) scale(1.055,1)" font-size="16.3" text-anchor="middle" font-family="Liberation Sans, sans-serif" >688</text><text transform="translate(363.85,889.11) scale(1.055,1)" font-size="16.3" text-anchor="middle" font-family="Liberation Sans, sans-serif" >1035</text><text transform="translate(409.70,889.11) scale(1.055,1)" font-size="16.3" text-anchor="middle" font-family="Liberation Sans, sans-serif" >400</text><text transform="translate(453.35,889.11) scale(1.055,1)" font-size="16.3" text-anchor="middle" font-family="Liberation Sans, sans-serif" >400</text><text transform="translate(505.85,889.11) scale(1.055,1)" font-size="16.3" text-anchor="middle" font-family="Liberation Sans, sans-serif" >90</text><text transform="translate(552.60,889.11) scale(1.055,1)" font-size="16.3" text-anchor="middle" font-family="Liberation Sans, sans-serif" >850</text><text transform="translate(605.75,889.11) scale(1.055,1)" font-size="16.3" text-anchor="middle" font-family="Liberation Sans, sans-serif" >-58</text><text transform="translate(656.35,889.11) scale(1.055,1)" font-size="16.3" text-anchor="middle" font-family="Liberation Sans, sans-serif" >185</text><text transform="translate(705.70,889.11) scale(1.055,1)" font-size="16.3" text-anchor="middle" font-family="Liberation Sans, sans-serif" >30</text><text transform="translate(839.00,889.11) scale(1.055,1)" font-size="16.3" text-anchor="middle" font-family="Liberation Sans, sans-serif" >330</text><text transform="translate(884.50,889.11) scale(1.055,1)" font-size="16.3" text-anchor="middle" font-family="Liberation Sans, sans-serif" >30</text><text transform="translate(928.45,889.11) scale(1.055,1)" font-size="16.3" text-anchor="middle" font-family="Liberation Sans, sans-serif" >290</text><text transform="translate(973.90,889.11) scale(1.055,1)" font-size="16.3" text-anchor="middle" font-family="Liberation Sans, sans-serif" >275</text><text transform="translate(1017.30,889.11) scale(1.055,1)" font-size="16.3" text-anchor="middle" font-family="Liberation Sans, sans-serif" >150</text><text transform="translate(44.80,911.58) scale(1.055,1)" font-size="16.3" text-anchor="middle" font-family="Liberation Sans, sans-serif" >60</text><text transform="translate(104.50,911.58) scale(1.055,1)" font-size="16.3" text-anchor="middle" font-family="Liberation Sans, sans-serif" >600</text><text transform="translate(150.85,911.58) scale(1.055,1)" font-size="16.3" text-anchor="middle" font-family="Liberation Sans, sans-serif" >250</text><text transform="translate(197.35,911.58) scale(1.055,1)" font-size="16.3" text-anchor="middle" font-family="Liberation Sans, sans-serif" >350</text><text transform="translate(222.50,911.58) scale(1.055,1)" font-size="16.3" font-family="Liberation Sans, sans-serif">400<tspan font-size="10">-0.5</tspan></text><text transform="translate(317.75,911.58) scale(1.055,1)" font-size="16.3" text-anchor="middle" font-family="Liberation Sans, sans-serif" >821</text><text transform="translate(363.85,911.58) scale(1.055,1)" font-size="16.3" text-anchor="middle" font-family="Liberation Sans, sans-serif" >1185</text><text transform="translate(409.70,911.58) scale(1.055,1)" font-size="16.3" text-anchor="middle" font-family="Liberation Sans, sans-serif" >460</text><text transform="translate(453.35,911.58) scale(1.055,1)" font-size="16.3" text-anchor="middle" font-family="Liberation Sans, sans-serif" >460</text><text transform="translate(505.85,911.58) scale(1.055,1)" font-size="16.3" text-anchor="middle" font-family="Liberation Sans, sans-serif" >100</text><text transform="translate(552.60,911.58) scale(1.055,1)" font-size="16.3" text-anchor="middle" font-family="Liberation Sans, sans-serif" >945</text><text transform="translate(605.75,911.58) scale(1.055,1)" font-size="16.3" text-anchor="middle" font-family="Liberation Sans, sans-serif" >-8</text><text transform="translate(656.35,911.58) scale(1.055,1)" font-size="16.3" text-anchor="middle" font-family="Liberation Sans, sans-serif" >190</text><text transform="translate(705.70,911.58) scale(1.055,1)" font-size="16.3" text-anchor="middle" font-family="Liberation Sans, sans-serif" >35</text><text transform="translate(839.00,911.58) scale(1.055,1)" font-size="16.3" text-anchor="middle" font-family="Liberation Sans, sans-serif" >390</text><text transform="translate(884.50,911.58) scale(1.055,1)" font-size="16.3" text-anchor="middle" font-family="Liberation Sans, sans-serif" >30</text><text transform="translate(928.45,911.58) scale(1.055,1)" font-size="16.3" text-anchor="middle" font-family="Liberation Sans, sans-serif" >370</text><text transform="translate(973.90,911.58) scale(1.055,1)" font-size="16.3" text-anchor="middle" font-family="Liberation Sans, sans-serif" >310</text><text transform="translate(1017.30,911.58) scale(1.055,1)" font-size="16.3" text-anchor="middle" font-family="Liberation Sans, sans-serif" >180</text><text transform="translate(44.80,934.05) scale(1.055,1)" font-size="16.3" text-anchor="middle" font-family="Liberation Sans, sans-serif" >65</text><text transform="translate(104.50,934.05) scale(1.055,1)" font-size="16.3" text-anchor="middle" font-family="Liberation Sans, sans-serif" >650</text><text transform="translate(150.85,934.05) scale(1.055,1)" font-size="16.3" text-anchor="middle" font-family="Liberation Sans, sans-serif" >250</text><text transform="translate(197.35,934.05) scale(1.055,1)" font-size="16.3" text-anchor="middle" font-family="Liberation Sans, sans-serif" >400</text><text transform="translate(222.50,934.05) scale(1.055,1)" font-size="16.3" font-family="Liberation Sans, sans-serif">450<tspan font-size="10">-0.5</tspan></text><text transform="translate(317.75,934.05) scale(1.055,1)" font-size="16.3" text-anchor="middle" font-family="Liberation Sans, sans-serif" >916</text><text transform="translate(363.85,934.05) scale(1.055,1)" font-size="16.3" text-anchor="middle" font-family="Liberation Sans, sans-serif" >1300</text><text transform="translate(409.70,934.05) scale(1.055,1)" font-size="16.3" text-anchor="middle" font-family="Liberation Sans, sans-serif" >500</text><text transform="translate(453.35,934.05) scale(1.055,1)" font-size="16.3" text-anchor="middle" font-family="Liberation Sans, sans-serif" >500</text><text transform="translate(505.85,934.05) scale(1.055,1)" font-size="16.3" text-anchor="middle" font-family="Liberation Sans, sans-serif" >110</text><text transform="translate(552.60,934.05) scale(1.055,1)" font-size="16.3" text-anchor="middle" font-family="Liberation Sans, sans-serif" >1025</text><text transform="translate(605.75,934.05) scale(1.055,1)" font-size="16.3" text-anchor="middle" font-family="Liberation Sans, sans-serif" >8</text><text transform="translate(656.35,934.05) scale(1.055,1)" font-size="16.3" text-anchor="middle" font-family="Liberation Sans, sans-serif" >205</text><text transform="translate(705.70,934.05) scale(1.055,1)" font-size="16.3" text-anchor="middle" font-family="Liberation Sans, sans-serif" >38</text><text transform="translate(839.00,934.05) scale(1.055,1)" font-size="16.3" text-anchor="middle" font-family="Liberation Sans, sans-serif" >420</text><text transform="translate(884.50,934.05) scale(1.055,1)" font-size="16.3" text-anchor="middle" font-family="Liberation Sans, sans-serif" >55</text><text transform="translate(928.45,934.05) scale(1.055,1)" font-size="16.3" text-anchor="middle" font-family="Liberation Sans, sans-serif" >395</text><text transform="translate(973.90,934.05) scale(1.055,1)" font-size="16.3" text-anchor="middle" font-family="Liberation Sans, sans-serif" >325</text><text transform="translate(1017.30,934.05) scale(1.055,1)" font-size="16.3" text-anchor="middle" font-family="Liberation Sans, sans-serif" >200</text><text transform="translate(44.80,956.52) scale(1.055,1)" font-size="16.3" text-anchor="middle" font-family="Liberation Sans, sans-serif" >75</text><text transform="translate(104.50,956.52) scale(1.055,1)" font-size="16.3" text-anchor="middle" font-family="Liberation Sans, sans-serif" >750</text><text transform="translate(150.85,956.52) scale(1.055,1)" font-size="16.3" text-anchor="middle" font-family="Liberation Sans, sans-serif" >300</text><text transform="translate(197.35,956.52) scale(1.055,1)" font-size="16.3" text-anchor="middle" font-family="Liberation Sans, sans-serif" >450</text><text transform="translate(222.50,956.52) scale(1.055,1)" font-size="16.3" font-family="Liberation Sans, sans-serif">500<tspan font-size="10">-0.5</tspan></text><text transform="translate(317.75,956.52) scale(1.055,1)" font-size="16.3" text-anchor="middle" font-family="Liberation Sans, sans-serif" >1060</text><text transform="translate(363.85,956.52) scale(1.055,1)" font-size="16.3" text-anchor="middle" font-family="Liberation Sans, sans-serif" >1460</text><text transform="translate(409.70,956.52) scale(1.055,1)" font-size="16.3" text-anchor="middle" font-family="Liberation Sans, sans-serif" >570</text><text transform="translate(453.35,956.52) scale(1.055,1)" font-size="16.3" text-anchor="middle" font-family="Liberation Sans, sans-serif" >570</text><text transform="translate(505.85,956.52) scale(1.055,1)" font-size="16.3" text-anchor="middle" font-family="Liberation Sans, sans-serif" >120</text><text transform="translate(552.60,956.52) scale(1.055,1)" font-size="16.3" text-anchor="middle" font-family="Liberation Sans, sans-serif" >1200</text><text transform="translate(605.75,956.52) scale(1.055,1)" font-size="16.3" text-anchor="middle" font-family="Liberation Sans, sans-serif" >-18</text><text transform="translate(656.35,956.52) scale(1.055,1)" font-size="16.3" text-anchor="middle" font-family="Liberation Sans, sans-serif" >214</text><text transform="translate(705.70,956.52) scale(1.055,1)" font-size="16.3" text-anchor="middle" font-family="Liberation Sans, sans-serif" >40</text><text transform="translate(839.00,956.52) scale(1.055,1)" font-size="16.3" text-anchor="middle" font-family="Liberation Sans, sans-serif" >480</text><text transform="translate(884.50,956.52) scale(1.055,1)" font-size="16.3" text-anchor="middle" font-family="Liberation Sans, sans-serif" >25</text><text transform="translate(928.45,956.52) scale(1.055,1)" font-size="16.3" text-anchor="middle" font-family="Liberation Sans, sans-serif" >485</text><text transform="translate(973.90,956.52) scale(1.055,1)" font-size="16.3" text-anchor="middle" font-family="Liberation Sans, sans-serif" >370</text><text transform="translate(1017.30,956.52) scale(1.055,1)" font-size="16.3" text-anchor="middle" font-family="Liberation Sans, sans-serif" >240</text><text transform="translate(44.80,978.99) scale(1.055,1)" font-size="16.3" text-anchor="middle" font-family="Liberation Sans, sans-serif" >85</text><text transform="translate(104.50,978.99) scale(1.055,1)" font-size="16.3" text-anchor="middle" font-family="Liberation Sans, sans-serif" >850</text><text transform="translate(150.85,978.99) scale(1.055,1)" font-size="16.3" text-anchor="middle" font-family="Liberation Sans, sans-serif" >350</text><text transform="translate(197.35,978.99) scale(1.055,1)" font-size="16.3" text-anchor="middle" font-family="Liberation Sans, sans-serif" >500</text><text transform="translate(222.50,978.99) scale(1.055,1)" font-size="16.3" font-family="Liberation Sans, sans-serif">550<tspan font-size="10">-1.0</tspan></text><text transform="translate(317.75,978.99) scale(1.055,1)" font-size="16.3" text-anchor="middle" font-family="Liberation Sans, sans-serif" >1116</text><text transform="translate(363.85,978.99) scale(1.055,1)" font-size="16.3" text-anchor="middle" font-family="Liberation Sans, sans-serif" >1655</text><text transform="translate(409.70,978.99) scale(1.055,1)" font-size="16.3" text-anchor="middle" font-family="Liberation Sans, sans-serif" >620</text><text transform="translate(453.35,978.99) scale(1.055,1)" font-size="16.3" text-anchor="middle" font-family="Liberation Sans, sans-serif" >620</text><text transform="translate(505.85,978.99) scale(1.055,1)" font-size="16.3" text-anchor="middle" font-family="Liberation Sans, sans-serif" >130</text><text transform="translate(552.60,978.99) scale(1.055,1)" font-size="16.3" text-anchor="middle" font-family="Liberation Sans, sans-serif" >1320</text><text transform="translate(605.75,978.99) scale(1.055,1)" font-size="16.3" text-anchor="middle" font-family="Liberation Sans, sans-serif" >12</text><text transform="translate(656.35,978.99) scale(1.055,1)" font-size="16.3" text-anchor="middle" font-family="Liberation Sans, sans-serif" >251</text><text transform="translate(705.70,978.99) scale(1.055,1)" font-size="16.3" text-anchor="middle" font-family="Liberation Sans, sans-serif" >45</text><text transform="translate(839.00,978.99) scale(1.055,1)" font-size="16.3" text-anchor="middle" font-family="Liberation Sans, sans-serif" >530</text><text transform="translate(884.50,978.99) scale(1.055,1)" font-size="16.3" text-anchor="middle" font-family="Liberation Sans, sans-serif" >65</text><text transform="translate(928.45,978.99) scale(1.055,1)" font-size="16.3" text-anchor="middle" font-family="Liberation Sans, sans-serif" >505</text><text transform="translate(973.90,978.99) scale(1.055,1)" font-size="16.3" text-anchor="middle" font-family="Liberation Sans, sans-serif" >445</text><text transform="translate(1017.30,978.99) scale(1.055,1)" font-size="16.3" text-anchor="middle" font-family="Liberation Sans, sans-serif" >250</text><text transform="translate(44.80,1001.46) scale(1.055,1)" font-size="16.3" text-anchor="middle" font-family="Liberation Sans, sans-serif" >100</text><text transform="translate(104.50,1001.46) scale(1.055,1)" font-size="16.3" text-anchor="middle" font-family="Liberation Sans, sans-serif" >1000</text><text transform="translate(150.85,1001.46) scale(1.055,1)" font-size="16.3" text-anchor="middle" font-family="Liberation Sans, sans-serif" >400</text><text transform="translate(197.35,1001.46) scale(1.055,1)" font-size="16.3" text-anchor="middle" font-family="Liberation Sans, sans-serif" >600</text><text transform="translate(222.50,1001.46) scale(1.055,1)" font-size="16.3" font-family="Liberation Sans, sans-serif">650<tspan font-size="10">-1.0</tspan></text><text transform="translate(317.75,1001.46) scale(1.055,1)" font-size="16.3" text-anchor="middle" font-family="Liberation Sans, sans-serif" >1306</text><text transform="translate(363.85,1001.46) scale(1.055,1)" font-size="16.3" text-anchor="middle" font-family="Liberation Sans, sans-serif" >1910</text><text transform="translate(409.70,1001.46) scale(1.055,1)" font-size="16.3" text-anchor="middle" font-family="Liberation Sans, sans-serif" >710</text><text transform="translate(453.35,1001.46) scale(1.055,1)" font-size="16.3" text-anchor="middle" font-family="Liberation Sans, sans-serif" >710</text><text transform="translate(505.85,1001.46) scale(1.055,1)" font-size="16.3" text-anchor="middle" font-family="Liberation Sans, sans-serif" >145</text><text transform="translate(552.60,1001.46) scale(1.055,1)" font-size="16.3" text-anchor="middle" font-family="Liberation Sans, sans-serif" >1550</text><text transform="translate(605.75,1001.46) scale(1.055,1)" font-size="16.3" text-anchor="middle" font-family="Liberation Sans, sans-serif" >22</text><text transform="translate(656.35,1001.46) scale(1.055,1)" font-size="16.3" text-anchor="middle" font-family="Liberation Sans, sans-serif" >265</text><text transform="translate(705.70,1001.46) scale(1.055,1)" font-size="16.3" text-anchor="middle" font-family="Liberation Sans, sans-serif" >50</text><text transform="translate(839.00,1001.46) scale(1.055,1)" font-size="16.3" text-anchor="middle" font-family="Liberation Sans, sans-serif" >610</text><text transform="translate(884.50,1001.46) scale(1.055,1)" font-size="16.3" text-anchor="middle" font-family="Liberation Sans, sans-serif" >75</text><text transform="translate(928.45,1001.46) scale(1.055,1)" font-size="16.3" text-anchor="middle" font-family="Liberation Sans, sans-serif" >595</text><text transform="translate(973.90,1001.46) scale(1.055,1)" font-size="16.3" text-anchor="middle" font-family="Liberation Sans, sans-serif" >510</text><text transform="translate(1017.30,1001.46) scale(1.055,1)" font-size="16.3" text-anchor="middle" font-family="Liberation Sans, sans-serif" >320</text><text transform="translate(44.80,1023.93) scale(1.055,1)" font-size="16.3" text-anchor="middle" font-family="Liberation Sans, sans-serif" >115</text><text transform="translate(104.50,1023.93) scale(1.055,1)" font-size="16.3" text-anchor="middle" font-family="Liberation Sans, sans-serif" >1150</text><text transform="translate(150.85,1023.93) scale(1.055,1)" font-size="16.3" text-anchor="middle" font-family="Liberation Sans, sans-serif" >450</text><text transform="translate(197.35,1023.93) scale(1.055,1)" font-size="16.3" text-anchor="middle" font-family="Liberation Sans, sans-serif" >700</text><text transform="translate(222.50,1023.93) scale(1.055,1)" font-size="16.3" font-family="Liberation Sans, sans-serif">750<tspan font-size="10">-1.0</tspan></text><text transform="translate(317.75,1023.93) scale(1.055,1)" font-size="16.3" text-anchor="middle" font-family="Liberation Sans, sans-serif" >1496</text><text transform="translate(363.85,1023.93) scale(1.055,1)" font-size="16.3" text-anchor="middle" font-family="Liberation Sans, sans-serif" >2190</text><text transform="translate(409.70,1023.93) scale(1.055,1)" font-size="16.3" text-anchor="middle" font-family="Liberation Sans, sans-serif" >785</text><text transform="translate(453.35,1023.93) scale(1.055,1)" font-size="16.3" text-anchor="middle" font-family="Liberation Sans, sans-serif" >785</text><text transform="translate(505.85,1023.93) scale(1.055,1)" font-size="16.3" text-anchor="middle" font-family="Liberation Sans, sans-serif" >145</text><text transform="translate(552.60,1023.93) scale(1.055,1)" font-size="16.3" text-anchor="middle" font-family="Liberation Sans, sans-serif" >1770</text><text transform="translate(605.75,1023.93) scale(1.055,1)" font-size="16.3" text-anchor="middle" font-family="Liberation Sans, sans-serif" >42</text><text transform="translate(656.35,1023.93) scale(1.055,1)" font-size="16.3" text-anchor="middle" font-family="Liberation Sans, sans-serif" >295</text><text transform="translate(705.70,1023.93) scale(1.055,1)" font-size="16.3" text-anchor="middle" font-family="Liberation Sans, sans-serif" >55</text><text transform="translate(839.00,1023.93) scale(1.055,1)" font-size="16.3" text-anchor="middle" font-family="Liberation Sans, sans-serif" >700</text><text transform="translate(884.50,1023.93) scale(1.055,1)" font-size="16.3" text-anchor="middle" font-family="Liberation Sans, sans-serif" >105</text><text transform="translate(928.45,1023.93) scale(1.055,1)" font-size="16.3" text-anchor="middle" font-family="Liberation Sans, sans-serif" >655</text><text transform="translate(973.90,1023.93) scale(1.055,1)" font-size="16.3" text-anchor="middle" font-family="Liberation Sans, sans-serif" >595</text><text transform="translate(1017.30,1023.93) scale(1.055,1)" font-size="16.3" text-anchor="middle" font-family="Liberation Sans, sans-serif" >380</text><text transform="translate(44.80,1046.40) scale(1.055,1)" font-size="16.3" text-anchor="middle" font-family="Liberation Sans, sans-serif" >130</text><text transform="translate(104.50,1046.40) scale(1.055,1)" font-size="16.3" text-anchor="middle" font-family="Liberation Sans, sans-serif" >1300</text><text transform="translate(150.85,1046.40) scale(1.055,1)" font-size="16.3" text-anchor="middle" font-family="Liberation Sans, sans-serif" >500</text><text transform="translate(197.35,1046.40) scale(1.055,1)" font-size="16.3" text-anchor="middle" font-family="Liberation Sans, sans-serif" >800</text><text transform="translate(222.50,1046.40) scale(1.055,1)" font-size="16.3" font-family="Liberation Sans, sans-serif">850<tspan font-size="10">-1.0</tspan></text><text transform="translate(317.75,1046.40) scale(1.055,1)" font-size="16.3" text-anchor="middle" font-family="Liberation Sans, sans-serif" >1691</text><text transform="translate(363.85,1046.40) scale(1.055,1)" font-size="16.3" text-anchor="middle" font-family="Liberation Sans, sans-serif" >2460</text><text transform="translate(409.70,1046.40) scale(1.055,1)" font-size="16.3" text-anchor="middle" font-family="Liberation Sans, sans-serif" >845</text><text transform="translate(453.35,1046.40) scale(1.055,1)" font-size="16.3" text-anchor="middle" font-family="Liberation Sans, sans-serif" >845</text><text transform="translate(505.85,1046.40) scale(1.055,1)" font-size="16.3" text-anchor="middle" font-family="Liberation Sans, sans-serif" >150</text><text transform="translate(552.60,1046.40) scale(1.055,1)" font-size="16.3" text-anchor="middle" font-family="Liberation Sans, sans-serif" >2015</text><text transform="translate(605.75,1046.40) scale(1.055,1)" font-size="16.3" text-anchor="middle" font-family="Liberation Sans, sans-serif" >42</text><text transform="translate(656.35,1046.40) scale(1.055,1)" font-size="16.3" text-anchor="middle" font-family="Liberation Sans, sans-serif" >317</text><text transform="translate(705.70,1046.40) scale(1.055,1)" font-size="16.3" text-anchor="middle" font-family="Liberation Sans, sans-serif" >60</text><text transform="translate(839.00,1046.40) scale(1.055,1)" font-size="16.3" text-anchor="middle" font-family="Liberation Sans, sans-serif" >740</text><text transform="translate(884.50,1046.40) scale(1.055,1)" font-size="16.3" text-anchor="middle" font-family="Liberation Sans, sans-serif" >105</text><text transform="translate(928.45,1046.40) scale(1.055,1)" font-size="16.3" text-anchor="middle" font-family="Liberation Sans, sans-serif" >745</text><text transform="translate(973.90,1046.40) scale(1.055,1)" font-size="16.3" text-anchor="middle" font-family="Liberation Sans, sans-serif" >675</text><text transform="translate(1017.30,1046.40) scale(1.055,1)" font-size="16.3" text-anchor="middle" font-family="Liberation Sans, sans-serif" >450</text><text transform="translate(749.00,844.16) scale(1.055,1)" font-size="16.3" text-anchor="middle" font-family="Liberation Sans, sans-serif" >M20</text><text transform="translate(749.00,900.42) scale(1.055,1)" font-size="16.3" text-anchor="middle" font-family="Liberation Sans, sans-serif" >M24</text><text transform="translate(749.00,945.43) scale(1.055,1)" font-size="16.3" text-anchor="middle" font-family="Liberation Sans, sans-serif" >M30</text><text transform="translate(749.00,990.44) scale(1.055,1)" font-size="16.3" text-anchor="middle" font-family="Liberation Sans, sans-serif" >M36</text><text transform="translate(749.00,1035.45) scale(1.055,1)" font-size="16.3" text-anchor="middle" font-family="Liberation Sans, sans-serif" >M42</text><text transform="translate(794.15,844.16) scale(1.055,1)" font-size="16.3" text-anchor="middle" font-family="Liberation Sans, sans-serif" >6</text><text transform="translate(794.15,967.93) scale(1.055,1)" font-size="16.3" text-anchor="middle" font-family="Liberation Sans, sans-serif" >8</text><rect x="9.3" y="1070.0" width="1033.1000000000001" height="313.5" fill="none" stroke="#1a1a1a" stroke-width="1.6"/><path d="M76.70 1070.00L76.70 1383.50" stroke="#1a1a1a" stroke-width="1.45" fill="none"/><path d="M124.70 1091.60L124.70 1383.50" stroke="#1a1a1a" stroke-width="1.45" fill="none"/><path d="M174.70 1091.60L174.70 1383.50" stroke="#1a1a1a" stroke-width="1.45" fill="none"/><path d="M224.00 1091.60L224.00 1383.50" stroke="#1a1a1a" stroke-width="1.45" fill="none"/><path d="M272.70 1070.00L272.70 1383.50" stroke="#1a1a1a" stroke-width="1.45" fill="none"/><path d="M322.00 1070.00L322.00 1383.50" stroke="#1a1a1a" stroke-width="1.45" fill="none"/><path d="M371.30 1070.00L371.30 1383.50" stroke="#1a1a1a" stroke-width="1.45" fill="none"/><path d="M420.70 1091.60L420.70 1383.50" stroke="#1a1a1a" stroke-width="1.45" fill="none"/><path d="M469.30 1091.60L469.30 1383.50" stroke="#1a1a1a" stroke-width="1.45" fill="none"/><path d="M518.70 1091.60L518.70 1383.50" stroke="#1a1a1a" stroke-width="1.45" fill="none"/><path d="M568.50 1070.00L568.50 1383.50" stroke="#1a1a1a" stroke-width="1.45" fill="none"/><path d="M618.30 1070.00L618.30 1383.50" stroke="#1a1a1a" stroke-width="1.45" fill="none"/><path d="M667.30 1091.60L667.30 1383.50" stroke="#1a1a1a" stroke-width="1.45" fill="none"/><path d="M716.70 1091.60L716.70 1383.50" stroke="#1a1a1a" stroke-width="1.45" fill="none"/><path d="M766.00 1091.60L766.00 1383.50" stroke="#1a1a1a" stroke-width="1.45" fill="none"/><path d="M815.30 1091.60L815.30 1383.50" stroke="#1a1a1a" stroke-width="1.45" fill="none"/><path d="M864.30 1091.60L864.30 1383.50" stroke="#1a1a1a" stroke-width="1.45" fill="none"/><path d="M913.90 1070.00L913.90 1383.50" stroke="#1a1a1a" stroke-width="1.45" fill="none"/><path d="M958.10 1070.00L958.10 1383.50" stroke="#1a1a1a" stroke-width="1.45" fill="none"/><path d="M76.70 1091.60L272.70 1091.60" stroke="#1a1a1a" stroke-width="1.45" fill="none"/><path d="M371.30 1091.60L568.50 1091.60" stroke="#1a1a1a" stroke-width="1.45" fill="none"/><path d="M618.30 1091.60L913.90 1091.60" stroke="#1a1a1a" stroke-width="1.45" fill="none"/><path d="M9.30 1114.20L1042.40 1114.20" stroke="#1a1a1a" stroke-width="1.45" fill="none"/><path d="M9.30 1137.10L667.30 1137.10" stroke="#1a1a1a" stroke-width="1.45" fill="none"/><path d="M716.70 1137.10L766.00 1137.10" stroke="#1a1a1a" stroke-width="1.45" fill="none"/><path d="M913.90 1137.10L1042.40 1137.10" stroke="#1a1a1a" stroke-width="1.45" fill="none"/><path d="M766.00 1137.10L815.30 1137.10" stroke="#1a1a1a" stroke-width="1.45" fill="none"/><path d="M9.30 1161.40L667.30 1161.40" stroke="#1a1a1a" stroke-width="1.45" fill="none"/><path d="M716.70 1161.40L766.00 1161.40" stroke="#1a1a1a" stroke-width="1.45" fill="none"/><path d="M913.90 1161.40L1042.40 1161.40" stroke="#1a1a1a" stroke-width="1.45" fill="none"/><path d="M9.30 1185.50L667.30 1185.50" stroke="#1a1a1a" stroke-width="1.45" fill="none"/><path d="M716.70 1185.50L766.00 1185.50" stroke="#1a1a1a" stroke-width="1.45" fill="none"/><path d="M913.90 1185.50L1042.40 1185.50" stroke="#1a1a1a" stroke-width="1.45" fill="none"/><path d="M667.30 1185.50L716.70 1185.50" stroke="#1a1a1a" stroke-width="1.45" fill="none"/><path d="M766.00 1185.50L913.90 1185.50" stroke="#1a1a1a" stroke-width="1.45" fill="none"/><path d="M9.30 1210.60L667.30 1210.60" stroke="#1a1a1a" stroke-width="1.45" fill="none"/><path d="M716.70 1210.60L766.00 1210.60" stroke="#1a1a1a" stroke-width="1.45" fill="none"/><path d="M913.90 1210.60L1042.40 1210.60" stroke="#1a1a1a" stroke-width="1.45" fill="none"/><path d="M9.30 1235.50L667.30 1235.50" stroke="#1a1a1a" stroke-width="1.45" fill="none"/><path d="M716.70 1235.50L766.00 1235.50" stroke="#1a1a1a" stroke-width="1.45" fill="none"/><path d="M913.90 1235.50L1042.40 1235.50" stroke="#1a1a1a" stroke-width="1.45" fill="none"/><path d="M9.30 1260.50L667.30 1260.50" stroke="#1a1a1a" stroke-width="1.45" fill="none"/><path d="M716.70 1260.50L766.00 1260.50" stroke="#1a1a1a" stroke-width="1.45" fill="none"/><path d="M913.90 1260.50L1042.40 1260.50" stroke="#1a1a1a" stroke-width="1.45" fill="none"/><path d="M9.30 1285.00L667.30 1285.00" stroke="#1a1a1a" stroke-width="1.45" fill="none"/><path d="M716.70 1285.00L766.00 1285.00" stroke="#1a1a1a" stroke-width="1.45" fill="none"/><path d="M913.90 1285.00L1042.40 1285.00" stroke="#1a1a1a" stroke-width="1.45" fill="none"/><path d="M9.30 1310.00L667.30 1310.00" stroke="#1a1a1a" stroke-width="1.45" fill="none"/><path d="M716.70 1310.00L766.00 1310.00" stroke="#1a1a1a" stroke-width="1.45" fill="none"/><path d="M913.90 1310.00L1042.40 1310.00" stroke="#1a1a1a" stroke-width="1.45" fill="none"/><path d="M9.30 1334.50L667.30 1334.50" stroke="#1a1a1a" stroke-width="1.45" fill="none"/><path d="M716.70 1334.50L766.00 1334.50" stroke="#1a1a1a" stroke-width="1.45" fill="none"/><path d="M913.90 1334.50L1042.40 1334.50" stroke="#1a1a1a" stroke-width="1.45" fill="none"/><path d="M9.30 1359.00L667.30 1359.00" stroke="#1a1a1a" stroke-width="1.45" fill="none"/><path d="M716.70 1359.00L766.00 1359.00" stroke="#1a1a1a" stroke-width="1.45" fill="none"/><path d="M913.90 1359.00L1042.40 1359.00" stroke="#1a1a1a" stroke-width="1.45" fill="none"/><text x="24.25 44.25" y="1098.1" font-size="15.5" font-family="'Liberation Sans', 'Noto Sans CJK SC', sans-serif" stroke="#1a1a1a" stroke-width="0.23">型号</text><text x="129.25 153.45 177.65" y="1086.8" font-size="16.5" font-family="'Liberation Sans', 'Noto Sans CJK SC', sans-serif" stroke="#1a1a1a" stroke-width="0.25">高速轴</text><text x="443.55 467.75 491.95" y="1086.8" font-size="16.5" font-family="'Liberation Sans', 'Noto Sans CJK SC', sans-serif" stroke="#1a1a1a" stroke-width="0.25">低速轴</text><text x="716.35 731.65 746.95 762.25" y="1086.8" font-size="15.6" font-family="'Liberation Sans', 'Noto Sans CJK SC', sans-serif" stroke="#1a1a1a" stroke-width="0.23">装配形式</text><text transform="translate(787.50,1086.60) scale(0.96,1)" font-size="17.2" text-anchor="start" font-family="Liberation Sans, sans-serif" >4-5</text><text x="921.5 937.5" y="1085.8" font-size="16" font-family="'Liberation Sans', 'Noto Sans CJK SC', sans-serif" stroke="#1a1a1a" stroke-width="0.24">质量</text><text transform="translate(936.00,1106.90) scale(0.96,1)" font-size="17.2" text-anchor="middle" font-family="Liberation Sans, sans-serif" >kg</text><text x="969.8 985.3 1000.8 1016.3" y="1098.1" font-size="15.4" font-family="'Liberation Sans', 'Noto Sans CJK SC', sans-serif" stroke="#1a1a1a" stroke-width="0.23">配用功率</text><text transform="translate(97.70,1108.70) scale(0.96,1)" font-size="17.2" text-anchor="middle" font-family="Liberation Sans, sans-serif" >l</text><text transform="translate(146.70,1108.70) scale(0.96,1)" font-size="17.2" text-anchor="middle" font-family="Liberation Sans, sans-serif" >D</text><text transform="translate(197.35,1108.70) scale(0.96,1)" font-size="17.2" text-anchor="middle" font-family="Liberation Sans, sans-serif" >b</text><text transform="translate(248.35,1108.70) scale(0.96,1)" font-size="17.2" text-anchor="middle" font-family="Liberation Sans, sans-serif" >t</text><text transform="translate(297.35,1097.90) scale(0.96,1)" font-size="17.2" text-anchor="middle" font-family="Liberation Sans, sans-serif" >S</text><text transform="translate(346.65,1097.90) scale(0.96,1)" font-size="17.2" text-anchor="middle" font-family="Liberation Sans, sans-serif">S<tspan font-size="10.5" dx="0.2" dy="0.8">1</tspan></text><text transform="translate(593.40,1097.90) scale(0.96,1)" font-size="17.2" text-anchor="middle" font-family="Liberation Sans, sans-serif" >T</text><text transform="translate(396.00,1108.70) scale(0.96,1)" font-size="17.2" text-anchor="middle" font-family="Liberation Sans, sans-serif">l<tspan font-size="10.5" dx="0.2" dy="0.8">1</tspan></text><text transform="translate(443.50,1108.70) scale(0.96,1)" font-size="17.2" text-anchor="middle" font-family="Liberation Sans, sans-serif">D<tspan font-size="10.5" dx="0.2" dy="0.8">1</tspan></text><text transform="translate(492.50,1108.70) scale(0.96,1)" font-size="17.2" text-anchor="middle" font-family="Liberation Sans, sans-serif">b<tspan font-size="10.5" dx="0.2" dy="0.8">1</tspan></text><text transform="translate(543.60,1108.70) scale(0.96,1)" font-size="17.2" text-anchor="middle" font-family="Liberation Sans, sans-serif">t<tspan font-size="10.5" dx="0.2" dy="0.8">1</tspan></text><text transform="translate(642.80,1108.70) scale(0.96,1)" font-size="17.2" text-anchor="middle" font-family="Liberation Sans, sans-serif">T<tspan font-size="10.5" dx="0.2" dy="0.8">1</tspan></text><text transform="translate(690.00,1108.70) scale(0.96,1)" font-size="17.2" text-anchor="middle" font-family="Liberation Sans, sans-serif">D<tspan font-size="10.5" dx="0.2" dy="0.8">2</tspan></text><text transform="translate(740.35,1108.70) scale(0.96,1)" font-size="17.2" text-anchor="middle" font-family="Liberation Sans, sans-serif">d<tspan font-size="10.5" dx="0.2" dy="0.8">4</tspan></text><text transform="translate(788.15,1108.70) scale(0.96,1)" font-size="17.2" text-anchor="middle" font-family="Liberation Sans, sans-serif">d<tspan font-size="10.5" dx="0.2" dy="0.8">8</tspan></text><text transform="translate(838.30,1108.70) scale(0.96,1)" font-size="17.2" text-anchor="middle" font-family="Liberation Sans, sans-serif">d<tspan font-size="10.5" dx="0.2" dy="0.8">9</tspan></text><text transform="translate(888.10,1108.70) scale(0.96,1)" font-size="17.2" text-anchor="middle" font-family="Liberation Sans, sans-serif">h<tspan font-size="10.5" dx="0.2" dy="0.8">2</tspan></text><text transform="translate(43.00,1131.00) scale(0.96,1)" font-size="17.2" text-anchor="middle" font-family="Liberation Sans, sans-serif" >25</text><text transform="translate(100.70,1131.00) scale(0.96,1)" font-size="17.2" text-anchor="middle" font-family="Liberation Sans, sans-serif" >55</text><text transform="translate(149.70,1131.00) scale(0.96,1)" font-size="17.2" text-anchor="middle" font-family="Liberation Sans, sans-serif" >25</text><text transform="translate(199.35,1131.00) scale(0.96,1)" font-size="17.2" text-anchor="middle" font-family="Liberation Sans, sans-serif" >8</text><text transform="translate(248.35,1131.00) scale(0.96,1)" font-size="17.2" text-anchor="middle" font-family="Liberation Sans, sans-serif" >27.5</text><text transform="translate(297.35,1131.00) scale(0.96,1)" font-size="17.2" text-anchor="middle" font-family="Liberation Sans, sans-serif" >235</text><text transform="translate(346.65,1131.00) scale(0.96,1)" font-size="17.2" text-anchor="middle" font-family="Liberation Sans, sans-serif" >245</text><text transform="translate(396.00,1131.00) scale(0.96,1)" font-size="17.2" text-anchor="middle" font-family="Liberation Sans, sans-serif" >70</text><text transform="translate(445.00,1131.00) scale(0.96,1)" font-size="17.2" text-anchor="middle" font-family="Liberation Sans, sans-serif" >40</text><text transform="translate(494.00,1131.00) scale(0.96,1)" font-size="17.2" text-anchor="middle" font-family="Liberation Sans, sans-serif" >12</text><text transform="translate(543.60,1131.00) scale(0.96,1)" font-size="17.2" text-anchor="middle" font-family="Liberation Sans, sans-serif" >42.8</text><text transform="translate(593.40,1131.00) scale(0.96,1)" font-size="17.2" text-anchor="middle" font-family="Liberation Sans, sans-serif" >250</text><text transform="translate(642.80,1131.00) scale(0.96,1)" font-size="17.2" text-anchor="middle" font-family="Liberation Sans, sans-serif" >160</text><text transform="translate(741.35,1131.00) scale(0.96,1)" font-size="17.2" text-anchor="middle" font-family="Liberation Sans, sans-serif" >45</text><text transform="translate(936.00,1131.00) scale(0.96,1)" font-size="17.2" text-anchor="middle" font-family="Liberation Sans, sans-serif" >135</text><text x="966.95" y="1132.50" font-size="14.5" text-anchor="middle" font-family="Liberation Sans, sans-serif">0</text><text x="974.35" y="1132.50" font-size="14.5" text-anchor="middle" font-family="Liberation Sans, sans-serif">.</text><text x="981.75" y="1132.50" font-size="14.5" text-anchor="middle" font-family="Liberation Sans, sans-serif">7</text><text x="989.15" y="1132.50" font-size="14.5" text-anchor="middle" font-family="Liberation Sans, sans-serif">5</text><path d="M995.05 1127.90L1005.45 1127.90" stroke="#1a1a1a" stroke-width="0.9" fill="none"/><text x="1011.35" y="1132.50" font-size="14.5" text-anchor="middle" font-family="Liberation Sans, sans-serif">1</text><text x="1018.75" y="1132.50" font-size="14.5" text-anchor="middle" font-family="Liberation Sans, sans-serif">0</text><text x="1026.15" y="1132.50" font-size="14.5" text-anchor="middle" font-family="Liberation Sans, sans-serif">.</text><text x="1033.55" y="1132.50" font-size="14.5" text-anchor="middle" font-family="Liberation Sans, sans-serif">4</text><text transform="translate(43.00,1155.67) scale(0.96,1)" font-size="17.2" text-anchor="middle" font-family="Liberation Sans, sans-serif" >35</text><text transform="translate(100.70,1155.67) scale(0.96,1)" font-size="17.2" text-anchor="middle" font-family="Liberation Sans, sans-serif" >55</text><text transform="translate(149.70,1155.67) scale(0.96,1)" font-size="17.2" text-anchor="middle" font-family="Liberation Sans, sans-serif" >30</text><text transform="translate(199.35,1155.67) scale(0.96,1)" font-size="17.2" text-anchor="middle" font-family="Liberation Sans, sans-serif" >8</text><text transform="translate(248.35,1155.67) scale(0.96,1)" font-size="17.2" text-anchor="middle" font-family="Liberation Sans, sans-serif" >32.5</text><text transform="translate(297.35,1155.67) scale(0.96,1)" font-size="17.2" text-anchor="middle" font-family="Liberation Sans, sans-serif" >265</text><text transform="translate(346.65,1155.67) scale(0.96,1)" font-size="17.2" text-anchor="middle" font-family="Liberation Sans, sans-serif" >275</text><text transform="translate(396.00,1155.67) scale(0.96,1)" font-size="17.2" text-anchor="middle" font-family="Liberation Sans, sans-serif" >85</text><text transform="translate(445.00,1155.67) scale(0.96,1)" font-size="17.2" text-anchor="middle" font-family="Liberation Sans, sans-serif" >55</text><text transform="translate(494.00,1155.67) scale(0.96,1)" font-size="17.2" text-anchor="middle" font-family="Liberation Sans, sans-serif" >16</text><text transform="translate(543.60,1155.67) scale(0.96,1)" font-size="17.2" text-anchor="middle" font-family="Liberation Sans, sans-serif" >58.5</text><text transform="translate(593.40,1155.67) scale(0.96,1)" font-size="17.2" text-anchor="middle" font-family="Liberation Sans, sans-serif" >305</text><text transform="translate(642.80,1155.67) scale(0.96,1)" font-size="17.2" text-anchor="middle" font-family="Liberation Sans, sans-serif" >190</text><text transform="translate(741.35,1155.67) scale(0.96,1)" font-size="17.2" text-anchor="middle" font-family="Liberation Sans, sans-serif" >60</text><text transform="translate(936.00,1155.67) scale(0.96,1)" font-size="17.2" text-anchor="middle" font-family="Liberation Sans, sans-serif" >230</text><text x="966.95" y="1157.17" font-size="14.5" text-anchor="middle" font-family="Liberation Sans, sans-serif">1</text><text x="974.35" y="1157.17" font-size="14.5" text-anchor="middle" font-family="Liberation Sans, sans-serif">.</text><text x="981.75" y="1157.17" font-size="14.5" text-anchor="middle" font-family="Liberation Sans, sans-serif">7</text><text x="989.15" y="1157.17" font-size="14.5" text-anchor="middle" font-family="Liberation Sans, sans-serif">4</text><path d="M995.05 1152.57L1005.45 1152.57" stroke="#1a1a1a" stroke-width="0.9" fill="none"/><text x="1011.35" y="1157.17" font-size="14.5" text-anchor="middle" font-family="Liberation Sans, sans-serif">2</text><text x="1018.75" y="1157.17" font-size="14.5" text-anchor="middle" font-family="Liberation Sans, sans-serif">8</text><text x="1026.15" y="1157.17" font-size="14.5" text-anchor="middle" font-family="Liberation Sans, sans-serif">.</text><text x="1033.55" y="1157.17" font-size="14.5" text-anchor="middle" font-family="Liberation Sans, sans-serif">5</text><text transform="translate(43.00,1180.34) scale(0.96,1)" font-size="17.2" text-anchor="middle" font-family="Liberation Sans, sans-serif" >42.5</text><text transform="translate(100.70,1180.34) scale(0.96,1)" font-size="17.2" text-anchor="middle" font-family="Liberation Sans, sans-serif" >55</text><text transform="translate(149.70,1180.34) scale(0.96,1)" font-size="17.2" text-anchor="middle" font-family="Liberation Sans, sans-serif" >35</text><text transform="translate(199.35,1180.34) scale(0.96,1)" font-size="17.2" text-anchor="middle" font-family="Liberation Sans, sans-serif" >10</text><text transform="translate(248.35,1180.34) scale(0.96,1)" font-size="17.2" text-anchor="middle" font-family="Liberation Sans, sans-serif" >37.8</text><text transform="translate(297.35,1180.34) scale(0.96,1)" font-size="17.2" text-anchor="middle" font-family="Liberation Sans, sans-serif" >280</text><text transform="translate(346.65,1180.34) scale(0.96,1)" font-size="17.2" text-anchor="middle" font-family="Liberation Sans, sans-serif" >290</text><text transform="translate(396.00,1180.34) scale(0.96,1)" font-size="17.2" text-anchor="middle" font-family="Liberation Sans, sans-serif" >105</text><text transform="translate(445.00,1180.34) scale(0.96,1)" font-size="17.2" text-anchor="middle" font-family="Liberation Sans, sans-serif" >70</text><text transform="translate(494.00,1180.34) scale(0.96,1)" font-size="17.2" text-anchor="middle" font-family="Liberation Sans, sans-serif" >20</text><text transform="translate(543.60,1180.34) scale(0.96,1)" font-size="17.2" text-anchor="middle" font-family="Liberation Sans, sans-serif" >74.2</text><text transform="translate(593.40,1180.34) scale(0.96,1)" font-size="17.2" text-anchor="middle" font-family="Liberation Sans, sans-serif" >355</text><text transform="translate(642.80,1180.34) scale(0.96,1)" font-size="17.2" text-anchor="middle" font-family="Liberation Sans, sans-serif" >210</text><text transform="translate(741.35,1180.34) scale(0.96,1)" font-size="17.2" text-anchor="middle" font-family="Liberation Sans, sans-serif" >75</text><text transform="translate(936.00,1180.34) scale(0.96,1)" font-size="17.2" text-anchor="middle" font-family="Liberation Sans, sans-serif" >305</text><text x="970.65" y="1181.84" font-size="14.5" text-anchor="middle" font-family="Liberation Sans, sans-serif">3</text><text x="978.05" y="1181.84" font-size="14.5" text-anchor="middle" font-family="Liberation Sans, sans-serif">.</text><text x="985.45" y="1181.84" font-size="14.5" text-anchor="middle" font-family="Liberation Sans, sans-serif">4</text><path d="M991.35 1177.24L1001.75 1177.24" stroke="#1a1a1a" stroke-width="0.9" fill="none"/><text x="1007.65" y="1181.84" font-size="14.5" text-anchor="middle" font-family="Liberation Sans, sans-serif">5</text><text x="1015.05" y="1181.84" font-size="14.5" text-anchor="middle" font-family="Liberation Sans, sans-serif">2</text><text x="1022.45" y="1181.84" font-size="14.5" text-anchor="middle" font-family="Liberation Sans, sans-serif">.</text><text x="1029.85" y="1181.84" font-size="14.5" text-anchor="middle" font-family="Liberation Sans, sans-serif">7</text><text transform="translate(43.00,1205.01) scale(0.96,1)" font-size="17.2" text-anchor="middle" font-family="Liberation Sans, sans-serif" >50</text><text transform="translate(100.70,1205.01) scale(0.96,1)" font-size="17.2" text-anchor="middle" font-family="Liberation Sans, sans-serif" >70</text><text transform="translate(149.70,1205.01) scale(0.96,1)" font-size="17.2" text-anchor="middle" font-family="Liberation Sans, sans-serif" >45</text><text transform="translate(199.35,1205.01) scale(0.96,1)" font-size="17.2" text-anchor="middle" font-family="Liberation Sans, sans-serif" >14</text><text transform="translate(248.35,1205.01) scale(0.96,1)" font-size="17.2" text-anchor="middle" font-family="Liberation Sans, sans-serif" >48.2</text><text transform="translate(297.35,1205.01) scale(0.96,1)" font-size="17.2" text-anchor="middle" font-family="Liberation Sans, sans-serif" >325</text><text transform="translate(346.65,1205.01) scale(0.96,1)" font-size="17.2" text-anchor="middle" font-family="Liberation Sans, sans-serif" >340</text><text transform="translate(396.00,1205.01) scale(0.96,1)" font-size="17.2" text-anchor="middle" font-family="Liberation Sans, sans-serif" >115</text><text transform="translate(445.00,1205.01) scale(0.96,1)" font-size="17.2" text-anchor="middle" font-family="Liberation Sans, sans-serif" >85</text><text transform="translate(494.00,1205.01) scale(0.96,1)" font-size="17.2" text-anchor="middle" font-family="Liberation Sans, sans-serif" >24</text><text transform="translate(543.60,1205.01) scale(0.96,1)" font-size="17.2" text-anchor="middle" font-family="Liberation Sans, sans-serif" >90.0</text><text transform="translate(593.40,1205.01) scale(0.96,1)" font-size="17.2" text-anchor="middle" font-family="Liberation Sans, sans-serif" >390</text><text transform="translate(642.80,1205.01) scale(0.96,1)" font-size="17.2" text-anchor="middle" font-family="Liberation Sans, sans-serif" >235</text><text transform="translate(741.35,1205.01) scale(0.96,1)" font-size="17.2" text-anchor="middle" font-family="Liberation Sans, sans-serif" >95</text><text transform="translate(936.00,1205.01) scale(0.96,1)" font-size="17.2" text-anchor="middle" font-family="Liberation Sans, sans-serif" >490</text><text x="966.95" y="1206.51" font-size="14.5" text-anchor="middle" font-family="Liberation Sans, sans-serif">5</text><text x="974.35" y="1206.51" font-size="14.5" text-anchor="middle" font-family="Liberation Sans, sans-serif">.</text><text x="981.75" y="1206.51" font-size="14.5" text-anchor="middle" font-family="Liberation Sans, sans-serif">8</text><text x="989.15" y="1206.51" font-size="14.5" text-anchor="middle" font-family="Liberation Sans, sans-serif">7</text><path d="M995.05 1201.91L1005.45 1201.91" stroke="#1a1a1a" stroke-width="0.9" fill="none"/><text x="1011.35" y="1206.51" font-size="14.5" text-anchor="middle" font-family="Liberation Sans, sans-serif">7</text><text x="1018.75" y="1206.51" font-size="14.5" text-anchor="middle" font-family="Liberation Sans, sans-serif">7</text><text x="1026.15" y="1206.51" font-size="14.5" text-anchor="middle" font-family="Liberation Sans, sans-serif">.</text><text x="1033.55" y="1206.51" font-size="14.5" text-anchor="middle" font-family="Liberation Sans, sans-serif">2</text><text transform="translate(43.00,1229.68) scale(0.96,1)" font-size="17.2" text-anchor="middle" font-family="Liberation Sans, sans-serif" >60</text><text transform="translate(100.70,1229.68) scale(0.96,1)" font-size="17.2" text-anchor="middle" font-family="Liberation Sans, sans-serif" >85</text><text transform="translate(149.70,1229.68) scale(0.96,1)" font-size="17.2" text-anchor="middle" font-family="Liberation Sans, sans-serif" >50</text><text transform="translate(199.35,1229.68) scale(0.96,1)" font-size="17.2" text-anchor="middle" font-family="Liberation Sans, sans-serif" >16</text><text transform="translate(248.35,1229.68) scale(0.96,1)" font-size="17.2" text-anchor="middle" font-family="Liberation Sans, sans-serif" >53.5</text><text transform="translate(297.35,1229.68) scale(0.96,1)" font-size="17.2" text-anchor="middle" font-family="Liberation Sans, sans-serif" >375</text><text transform="translate(346.65,1229.68) scale(0.96,1)" font-size="17.2" text-anchor="middle" font-family="Liberation Sans, sans-serif" >386</text><text transform="translate(396.00,1229.68) scale(0.96,1)" font-size="17.2" text-anchor="middle" font-family="Liberation Sans, sans-serif" >140</text><text transform="translate(445.00,1229.68) scale(0.96,1)" font-size="17.2" text-anchor="middle" font-family="Liberation Sans, sans-serif" >100</text><text transform="translate(494.00,1229.68) scale(0.96,1)" font-size="17.2" text-anchor="middle" font-family="Liberation Sans, sans-serif" >28</text><text transform="translate(543.60,1229.68) scale(0.96,1)" font-size="17.2" text-anchor="middle" font-family="Liberation Sans, sans-serif" >105.7</text><text transform="translate(593.40,1229.68) scale(0.96,1)" font-size="17.2" text-anchor="middle" font-family="Liberation Sans, sans-serif" >450</text><text transform="translate(642.80,1229.68) scale(0.96,1)" font-size="17.2" text-anchor="middle" font-family="Liberation Sans, sans-serif" >270</text><text transform="translate(741.35,1229.68) scale(0.96,1)" font-size="17.2" text-anchor="middle" font-family="Liberation Sans, sans-serif" >110</text><text transform="translate(936.00,1229.68) scale(0.96,1)" font-size="17.2" text-anchor="middle" font-family="Liberation Sans, sans-serif" >725</text><text x="970.65" y="1231.18" font-size="14.5" text-anchor="middle" font-family="Liberation Sans, sans-serif">9</text><text x="978.05" y="1231.18" font-size="14.5" text-anchor="middle" font-family="Liberation Sans, sans-serif">.</text><text x="985.45" y="1231.18" font-size="14.5" text-anchor="middle" font-family="Liberation Sans, sans-serif">3</text><text x="992.85" y="1231.18" font-size="14.5" text-anchor="middle" font-family="Liberation Sans, sans-serif">1</text><path d="M998.75 1226.58L1009.15 1226.58" stroke="#1a1a1a" stroke-width="0.9" fill="none"/><text x="1015.05" y="1231.18" font-size="14.5" text-anchor="middle" font-family="Liberation Sans, sans-serif">1</text><text x="1022.45" y="1231.18" font-size="14.5" text-anchor="middle" font-family="Liberation Sans, sans-serif">4</text><text x="1029.85" y="1231.18" font-size="14.5" text-anchor="middle" font-family="Liberation Sans, sans-serif">6</text><text transform="translate(43.00,1254.35) scale(0.96,1)" font-size="17.2" text-anchor="middle" font-family="Liberation Sans, sans-serif" >65</text><text transform="translate(100.70,1254.35) scale(0.96,1)" font-size="17.2" text-anchor="middle" font-family="Liberation Sans, sans-serif" >85</text><text transform="translate(149.70,1254.35) scale(0.96,1)" font-size="17.2" text-anchor="middle" font-family="Liberation Sans, sans-serif" >50</text><text transform="translate(199.35,1254.35) scale(0.96,1)" font-size="17.2" text-anchor="middle" font-family="Liberation Sans, sans-serif" >16</text><text transform="translate(248.35,1254.35) scale(0.96,1)" font-size="17.2" text-anchor="middle" font-family="Liberation Sans, sans-serif" >53.5</text><text transform="translate(297.35,1254.35) scale(0.96,1)" font-size="17.2" text-anchor="middle" font-family="Liberation Sans, sans-serif" >395</text><text transform="translate(346.65,1254.35) scale(0.96,1)" font-size="17.2" text-anchor="middle" font-family="Liberation Sans, sans-serif" >406</text><text transform="translate(396.00,1254.35) scale(0.96,1)" font-size="17.2" text-anchor="middle" font-family="Liberation Sans, sans-serif" >140</text><text transform="translate(445.00,1254.35) scale(0.96,1)" font-size="17.2" text-anchor="middle" font-family="Liberation Sans, sans-serif" >110</text><text transform="translate(494.00,1254.35) scale(0.96,1)" font-size="17.2" text-anchor="middle" font-family="Liberation Sans, sans-serif" >32</text><text transform="translate(543.60,1254.35) scale(0.96,1)" font-size="17.2" text-anchor="middle" font-family="Liberation Sans, sans-serif" >116.5</text><text transform="translate(593.40,1254.35) scale(0.96,1)" font-size="17.2" text-anchor="middle" font-family="Liberation Sans, sans-serif" >470</text><text transform="translate(642.80,1254.35) scale(0.96,1)" font-size="17.2" text-anchor="middle" font-family="Liberation Sans, sans-serif" >290</text><text transform="translate(741.35,1254.35) scale(0.96,1)" font-size="17.2" text-anchor="middle" font-family="Liberation Sans, sans-serif" >120</text><text transform="translate(936.00,1254.35) scale(0.96,1)" font-size="17.2" text-anchor="middle" font-family="Liberation Sans, sans-serif" >980</text><text x="970.65" y="1255.85" font-size="14.5" text-anchor="middle" font-family="Liberation Sans, sans-serif">1</text><text x="978.05" y="1255.85" font-size="14.5" text-anchor="middle" font-family="Liberation Sans, sans-serif">3</text><text x="985.45" y="1255.85" font-size="14.5" text-anchor="middle" font-family="Liberation Sans, sans-serif">.</text><text x="992.85" y="1255.85" font-size="14.5" text-anchor="middle" font-family="Liberation Sans, sans-serif">9</text><path d="M998.75 1251.25L1009.15 1251.25" stroke="#1a1a1a" stroke-width="0.9" fill="none"/><text x="1015.05" y="1255.85" font-size="14.5" text-anchor="middle" font-family="Liberation Sans, sans-serif">1</text><text x="1022.45" y="1255.85" font-size="14.5" text-anchor="middle" font-family="Liberation Sans, sans-serif">5</text><text x="1029.85" y="1255.85" font-size="14.5" text-anchor="middle" font-family="Liberation Sans, sans-serif">6</text><text transform="translate(43.00,1279.02) scale(0.96,1)" font-size="17.2" text-anchor="middle" font-family="Liberation Sans, sans-serif" >75</text><text transform="translate(100.70,1279.02) scale(0.96,1)" font-size="17.2" text-anchor="middle" font-family="Liberation Sans, sans-serif" >105</text><text transform="translate(149.70,1279.02) scale(0.96,1)" font-size="17.2" text-anchor="middle" font-family="Liberation Sans, sans-serif" >60</text><text transform="translate(199.35,1279.02) scale(0.96,1)" font-size="17.2" text-anchor="middle" font-family="Liberation Sans, sans-serif" >18</text><text transform="translate(248.35,1279.02) scale(0.96,1)" font-size="17.2" text-anchor="middle" font-family="Liberation Sans, sans-serif" >63.9</text><text transform="translate(297.35,1279.02) scale(0.96,1)" font-size="17.2" text-anchor="middle" font-family="Liberation Sans, sans-serif" >450</text><text transform="translate(346.65,1279.02) scale(0.96,1)" font-size="17.2" text-anchor="middle" font-family="Liberation Sans, sans-serif" >463</text><text transform="translate(396.00,1279.02) scale(0.96,1)" font-size="17.2" text-anchor="middle" font-family="Liberation Sans, sans-serif" >165</text><text transform="translate(445.00,1279.02) scale(0.96,1)" font-size="17.2" text-anchor="middle" font-family="Liberation Sans, sans-serif" >130</text><text transform="translate(494.00,1279.02) scale(0.96,1)" font-size="17.2" text-anchor="middle" font-family="Liberation Sans, sans-serif" >36</text><text transform="translate(543.60,1279.02) scale(0.96,1)" font-size="17.2" text-anchor="middle" font-family="Liberation Sans, sans-serif" >137.2</text><text transform="translate(593.40,1279.02) scale(0.96,1)" font-size="17.2" text-anchor="middle" font-family="Liberation Sans, sans-serif" >540</text><text transform="translate(642.80,1279.02) scale(0.96,1)" font-size="17.2" text-anchor="middle" font-family="Liberation Sans, sans-serif" >325</text><text transform="translate(741.35,1279.02) scale(0.96,1)" font-size="17.2" text-anchor="middle" font-family="Liberation Sans, sans-serif" >140</text><text transform="translate(936.00,1279.02) scale(0.96,1)" font-size="17.2" text-anchor="middle" font-family="Liberation Sans, sans-serif" >1390</text><text x="970.65" y="1280.52" font-size="14.5" text-anchor="middle" font-family="Liberation Sans, sans-serif">1</text><text x="978.05" y="1280.52" font-size="14.5" text-anchor="middle" font-family="Liberation Sans, sans-serif">7</text><text x="985.45" y="1280.52" font-size="14.5" text-anchor="middle" font-family="Liberation Sans, sans-serif">.</text><text x="992.85" y="1280.52" font-size="14.5" text-anchor="middle" font-family="Liberation Sans, sans-serif">8</text><path d="M998.75 1275.92L1009.15 1275.92" stroke="#1a1a1a" stroke-width="0.9" fill="none"/><text x="1015.05" y="1280.52" font-size="14.5" text-anchor="middle" font-family="Liberation Sans, sans-serif">2</text><text x="1022.45" y="1280.52" font-size="14.5" text-anchor="middle" font-family="Liberation Sans, sans-serif">6</text><text x="1029.85" y="1280.52" font-size="14.5" text-anchor="middle" font-family="Liberation Sans, sans-serif">3</text><text transform="translate(43.00,1303.69) scale(0.96,1)" font-size="17.2" text-anchor="middle" font-family="Liberation Sans, sans-serif" >85</text><text transform="translate(100.70,1303.69) scale(0.96,1)" font-size="17.2" text-anchor="middle" font-family="Liberation Sans, sans-serif" >105</text><text transform="translate(149.70,1303.69) scale(0.96,1)" font-size="17.2" text-anchor="middle" font-family="Liberation Sans, sans-serif" >70</text><text transform="translate(199.35,1303.69) scale(0.96,1)" font-size="17.2" text-anchor="middle" font-family="Liberation Sans, sans-serif" >20</text><text transform="translate(248.35,1303.69) scale(0.96,1)" font-size="17.2" text-anchor="middle" font-family="Liberation Sans, sans-serif" >74.2</text><text transform="translate(297.35,1303.69) scale(0.96,1)" font-size="17.2" text-anchor="middle" font-family="Liberation Sans, sans-serif" >490</text><text transform="translate(346.65,1303.69) scale(0.96,1)" font-size="17.2" text-anchor="middle" font-family="Liberation Sans, sans-serif" >500</text><text transform="translate(396.00,1303.69) scale(0.96,1)" font-size="17.2" text-anchor="middle" font-family="Liberation Sans, sans-serif" >180</text><text transform="translate(445.00,1303.69) scale(0.96,1)" font-size="17.2" text-anchor="middle" font-family="Liberation Sans, sans-serif" >140</text><text transform="translate(494.00,1303.69) scale(0.96,1)" font-size="17.2" text-anchor="middle" font-family="Liberation Sans, sans-serif" >36</text><text transform="translate(543.60,1303.69) scale(0.96,1)" font-size="17.2" text-anchor="middle" font-family="Liberation Sans, sans-serif" >147.2</text><text transform="translate(593.40,1303.69) scale(0.96,1)" font-size="17.2" text-anchor="middle" font-family="Liberation Sans, sans-serif" >580</text><text transform="translate(642.80,1303.69) scale(0.96,1)" font-size="17.2" text-anchor="middle" font-family="Liberation Sans, sans-serif" >350</text><text transform="translate(741.35,1303.69) scale(0.96,1)" font-size="17.2" text-anchor="middle" font-family="Liberation Sans, sans-serif" >150</text><text transform="translate(936.00,1303.69) scale(0.96,1)" font-size="17.2" text-anchor="middle" font-family="Liberation Sans, sans-serif" >1910</text><text x="970.65" y="1305.19" font-size="14.5" text-anchor="middle" font-family="Liberation Sans, sans-serif">2</text><text x="978.05" y="1305.19" font-size="14.5" text-anchor="middle" font-family="Liberation Sans, sans-serif">7</text><text x="985.45" y="1305.19" font-size="14.5" text-anchor="middle" font-family="Liberation Sans, sans-serif">.</text><text x="992.85" y="1305.19" font-size="14.5" text-anchor="middle" font-family="Liberation Sans, sans-serif">1</text><path d="M998.75 1300.59L1009.15 1300.59" stroke="#1a1a1a" stroke-width="0.9" fill="none"/><text x="1015.05" y="1305.19" font-size="14.5" text-anchor="middle" font-family="Liberation Sans, sans-serif">3</text><text x="1022.45" y="1305.19" font-size="14.5" text-anchor="middle" font-family="Liberation Sans, sans-serif">3</text><text x="1029.85" y="1305.19" font-size="14.5" text-anchor="middle" font-family="Liberation Sans, sans-serif">3</text><text transform="translate(43.00,1328.36) scale(0.96,1)" font-size="17.2" text-anchor="middle" font-family="Liberation Sans, sans-serif" >100</text><text transform="translate(100.70,1328.36) scale(0.96,1)" font-size="17.2" text-anchor="middle" font-family="Liberation Sans, sans-serif" >125</text><text transform="translate(149.70,1328.36) scale(0.96,1)" font-size="17.2" text-anchor="middle" font-family="Liberation Sans, sans-serif" >80</text><text transform="translate(199.35,1328.36) scale(0.96,1)" font-size="17.2" text-anchor="middle" font-family="Liberation Sans, sans-serif" >24</text><text transform="translate(248.35,1328.36) scale(0.96,1)" font-size="17.2" text-anchor="middle" font-family="Liberation Sans, sans-serif" >85</text><text transform="translate(297.35,1328.36) scale(0.96,1)" font-size="17.2" text-anchor="middle" font-family="Liberation Sans, sans-serif" >560</text><text transform="translate(346.65,1328.36) scale(0.96,1)" font-size="17.2" text-anchor="middle" font-family="Liberation Sans, sans-serif" >567</text><text transform="translate(396.00,1328.36) scale(0.96,1)" font-size="17.2" text-anchor="middle" font-family="Liberation Sans, sans-serif" >200</text><text transform="translate(445.00,1328.36) scale(0.96,1)" font-size="17.2" text-anchor="middle" font-family="Liberation Sans, sans-serif" >170</text><text transform="translate(494.00,1328.36) scale(0.96,1)" font-size="17.2" text-anchor="middle" font-family="Liberation Sans, sans-serif" >40</text><text transform="translate(543.60,1328.36) scale(0.96,1)" font-size="17.2" text-anchor="middle" font-family="Liberation Sans, sans-serif" >178.5</text><text transform="translate(593.40,1328.36) scale(0.96,1)" font-size="17.2" text-anchor="middle" font-family="Liberation Sans, sans-serif" >655</text><text transform="translate(642.80,1328.36) scale(0.96,1)" font-size="17.2" text-anchor="middle" font-family="Liberation Sans, sans-serif" >395</text><text transform="translate(741.35,1328.36) scale(0.96,1)" font-size="17.2" text-anchor="middle" font-family="Liberation Sans, sans-serif" >180</text><text transform="translate(936.00,1328.36) scale(0.96,1)" font-size="17.2" text-anchor="middle" font-family="Liberation Sans, sans-serif" >2730</text><text x="970.65" y="1329.86" font-size="14.5" text-anchor="middle" font-family="Liberation Sans, sans-serif">4</text><text x="978.05" y="1329.86" font-size="14.5" text-anchor="middle" font-family="Liberation Sans, sans-serif">6</text><text x="985.45" y="1329.86" font-size="14.5" text-anchor="middle" font-family="Liberation Sans, sans-serif">.</text><text x="992.85" y="1329.86" font-size="14.5" text-anchor="middle" font-family="Liberation Sans, sans-serif">7</text><path d="M998.75 1325.26L1009.15 1325.26" stroke="#1a1a1a" stroke-width="0.9" fill="none"/><text x="1015.05" y="1329.86" font-size="14.5" text-anchor="middle" font-family="Liberation Sans, sans-serif">4</text><text x="1022.45" y="1329.86" font-size="14.5" text-anchor="middle" font-family="Liberation Sans, sans-serif">8</text><text x="1029.85" y="1329.86" font-size="14.5" text-anchor="middle" font-family="Liberation Sans, sans-serif">7</text><text transform="translate(43.00,1353.03) scale(0.96,1)" font-size="17.2" text-anchor="middle" font-family="Liberation Sans, sans-serif" >115</text><text transform="translate(100.70,1353.03) scale(0.96,1)" font-size="17.2" text-anchor="middle" font-family="Liberation Sans, sans-serif" >140</text><text transform="translate(149.70,1353.03) scale(0.96,1)" font-size="17.2" text-anchor="middle" font-family="Liberation Sans, sans-serif" >90</text><text transform="translate(199.35,1353.03) scale(0.96,1)" font-size="17.2" text-anchor="middle" font-family="Liberation Sans, sans-serif" >24</text><text transform="translate(248.35,1353.03) scale(0.96,1)" font-size="17.2" text-anchor="middle" font-family="Liberation Sans, sans-serif" >95</text><text transform="translate(297.35,1353.03) scale(0.96,1)" font-size="17.2" text-anchor="middle" font-family="Liberation Sans, sans-serif" >610</text><text transform="translate(346.65,1353.03) scale(0.96,1)" font-size="17.2" text-anchor="middle" font-family="Liberation Sans, sans-serif" >620</text><text transform="translate(396.00,1353.03) scale(0.96,1)" font-size="17.2" text-anchor="middle" font-family="Liberation Sans, sans-serif" >240</text><text transform="translate(445.00,1353.03) scale(0.96,1)" font-size="17.2" text-anchor="middle" font-family="Liberation Sans, sans-serif" >200</text><text transform="translate(494.00,1353.03) scale(0.96,1)" font-size="17.2" text-anchor="middle" font-family="Liberation Sans, sans-serif" >45</text><text transform="translate(543.60,1353.03) scale(0.96,1)" font-size="17.2" text-anchor="middle" font-family="Liberation Sans, sans-serif" >209.7</text><text transform="translate(593.40,1353.03) scale(0.96,1)" font-size="17.2" text-anchor="middle" font-family="Liberation Sans, sans-serif" >735</text><text transform="translate(642.80,1353.03) scale(0.96,1)" font-size="17.2" text-anchor="middle" font-family="Liberation Sans, sans-serif" >435</text><text transform="translate(741.35,1353.03) scale(0.96,1)" font-size="17.2" text-anchor="middle" font-family="Liberation Sans, sans-serif" >220</text><text transform="translate(936.00,1353.03) scale(0.96,1)" font-size="17.2" text-anchor="middle" font-family="Liberation Sans, sans-serif" >4000</text><text x="970.65" y="1354.53" font-size="14.5" text-anchor="middle" font-family="Liberation Sans, sans-serif">7</text><text x="978.05" y="1354.53" font-size="14.5" text-anchor="middle" font-family="Liberation Sans, sans-serif">4</text><text x="985.45" y="1354.53" font-size="14.5" text-anchor="middle" font-family="Liberation Sans, sans-serif">.</text><text x="992.85" y="1354.53" font-size="14.5" text-anchor="middle" font-family="Liberation Sans, sans-serif">1</text><path d="M998.75 1349.93L1009.15 1349.93" stroke="#1a1a1a" stroke-width="0.9" fill="none"/><text x="1015.05" y="1354.53" font-size="14.5" text-anchor="middle" font-family="Liberation Sans, sans-serif">6</text><text x="1022.45" y="1354.53" font-size="14.5" text-anchor="middle" font-family="Liberation Sans, sans-serif">5</text><text x="1029.85" y="1354.53" font-size="14.5" text-anchor="middle" font-family="Liberation Sans, sans-serif">4</text><text transform="translate(43.00,1377.70) scale(0.96,1)" font-size="17.2" text-anchor="middle" font-family="Liberation Sans, sans-serif" >130</text><text transform="translate(100.70,1377.70) scale(0.96,1)" font-size="17.2" text-anchor="middle" font-family="Liberation Sans, sans-serif" >160</text><text transform="translate(149.70,1377.70) scale(0.96,1)" font-size="17.2" text-anchor="middle" font-family="Liberation Sans, sans-serif" >100</text><text transform="translate(199.35,1377.70) scale(0.96,1)" font-size="17.2" text-anchor="middle" font-family="Liberation Sans, sans-serif" >28</text><text transform="translate(248.35,1377.70) scale(0.96,1)" font-size="17.2" text-anchor="middle" font-family="Liberation Sans, sans-serif" >105.7</text><text transform="translate(297.35,1377.70) scale(0.96,1)" font-size="17.2" text-anchor="middle" font-family="Liberation Sans, sans-serif" >660</text><text transform="translate(346.65,1377.70) scale(0.96,1)" font-size="17.2" text-anchor="middle" font-family="Liberation Sans, sans-serif" >670</text><text transform="translate(396.00,1377.70) scale(0.96,1)" font-size="17.2" text-anchor="middle" font-family="Liberation Sans, sans-serif" >280</text><text transform="translate(445.00,1377.70) scale(0.96,1)" font-size="17.2" text-anchor="middle" font-family="Liberation Sans, sans-serif" >220</text><text transform="translate(494.00,1377.70) scale(0.96,1)" font-size="17.2" text-anchor="middle" font-family="Liberation Sans, sans-serif" >50</text><text transform="translate(543.60,1377.70) scale(0.96,1)" font-size="17.2" text-anchor="middle" font-family="Liberation Sans, sans-serif" >231.0</text><text transform="translate(593.40,1377.70) scale(0.96,1)" font-size="17.2" text-anchor="middle" font-family="Liberation Sans, sans-serif" >805</text><text transform="translate(642.80,1377.70) scale(0.96,1)" font-size="17.2" text-anchor="middle" font-family="Liberation Sans, sans-serif" >465</text><text transform="translate(741.35,1377.70) scale(0.96,1)" font-size="17.2" text-anchor="middle" font-family="Liberation Sans, sans-serif" >240</text><text transform="translate(936.00,1377.70) scale(0.96,1)" font-size="17.2" text-anchor="middle" font-family="Liberation Sans, sans-serif" >5430</text><text x="974.35" y="1379.20" font-size="14.5" text-anchor="middle" font-family="Liberation Sans, sans-serif">1</text><text x="981.75" y="1379.20" font-size="14.5" text-anchor="middle" font-family="Liberation Sans, sans-serif">1</text><text x="989.15" y="1379.20" font-size="14.5" text-anchor="middle" font-family="Liberation Sans, sans-serif">0</text><path d="M995.05 1374.60L1005.45 1374.60" stroke="#1a1a1a" stroke-width="0.9" fill="none"/><text x="1011.35" y="1379.20" font-size="14.5" text-anchor="middle" font-family="Liberation Sans, sans-serif">8</text><text x="1018.75" y="1379.20" font-size="14.5" text-anchor="middle" font-family="Liberation Sans, sans-serif">7</text><text x="1026.15" y="1379.20" font-size="14.5" text-anchor="middle" font-family="Liberation Sans, sans-serif">5</text><text transform="translate(692.00,1155.67) scale(0.96,1)" font-size="17.2" text-anchor="middle" font-family="Liberation Sans, sans-serif" >25</text><text transform="translate(692.00,1291.36) scale(0.96,1)" font-size="17.2" text-anchor="middle" font-family="Liberation Sans, sans-serif" >75</text><text transform="translate(790.65,1133.00) scale(0.96,1)" font-size="17.2" text-anchor="middle" font-family="Liberation Sans, sans-serif" >35</text><text transform="translate(790.65,1168.01) scale(0.96,1)" font-size="17.2" text-anchor="middle" font-family="Liberation Sans, sans-serif" >40</text><text transform="translate(790.65,1291.36) scale(0.96,1)" font-size="17.2" text-anchor="middle" font-family="Liberation Sans, sans-serif" >55</text><text transform="translate(839.80,1155.67) scale(0.96,1)" font-size="17.2" text-anchor="middle" font-family="Liberation Sans, sans-serif" >M6</text><text transform="translate(839.80,1291.36) scale(0.96,1)" font-size="17.2" text-anchor="middle" font-family="Liberation Sans, sans-serif" >M8</text><text transform="translate(889.10,1155.67) scale(0.96,1)" font-size="17.2" text-anchor="middle" font-family="Liberation Sans, sans-serif" >15</text><text transform="translate(889.10,1291.36) scale(0.96,1)" font-size="17.2" text-anchor="middle" font-family="Liberation Sans, sans-serif" >20</text><text x="664.2" y="408.8" font-size="13.8" font-weight="bold" font-family="'Liberation Serif', 'Noto Serif CJK SC', serif">深</text><text x="778.6" y="484.8" font-size="13.8" font-weight="bold" font-family="'Liberation Serif', 'Noto Serif CJK SC', serif">深</text><text x="837.2 850.9 864.6 878.3" y="514.3" font-size="13.7" font-weight="bold" font-family="'Liberation Serif', 'Noto Serif CJK SC', serif">装配型式</text><text x="17.05" y="1409" font-size="16.3" letter-spacing="0.3" font-family="'Liberation Sans', 'Noto Sans CJK SC', sans-serif" stroke="#1a1a1a" stroke-width="0.13">带负号的尺寸在高速轴轴心线的右侧，不带负号的尺寸位置与图示位置相同。</text><text x="8" y="1411" font-size="17" text-anchor="middle" font-family="Liberation Sans, sans-serif" stroke="#1a1a1a" stroke-width="0.3">*</text>
</svg>
</body></html>
